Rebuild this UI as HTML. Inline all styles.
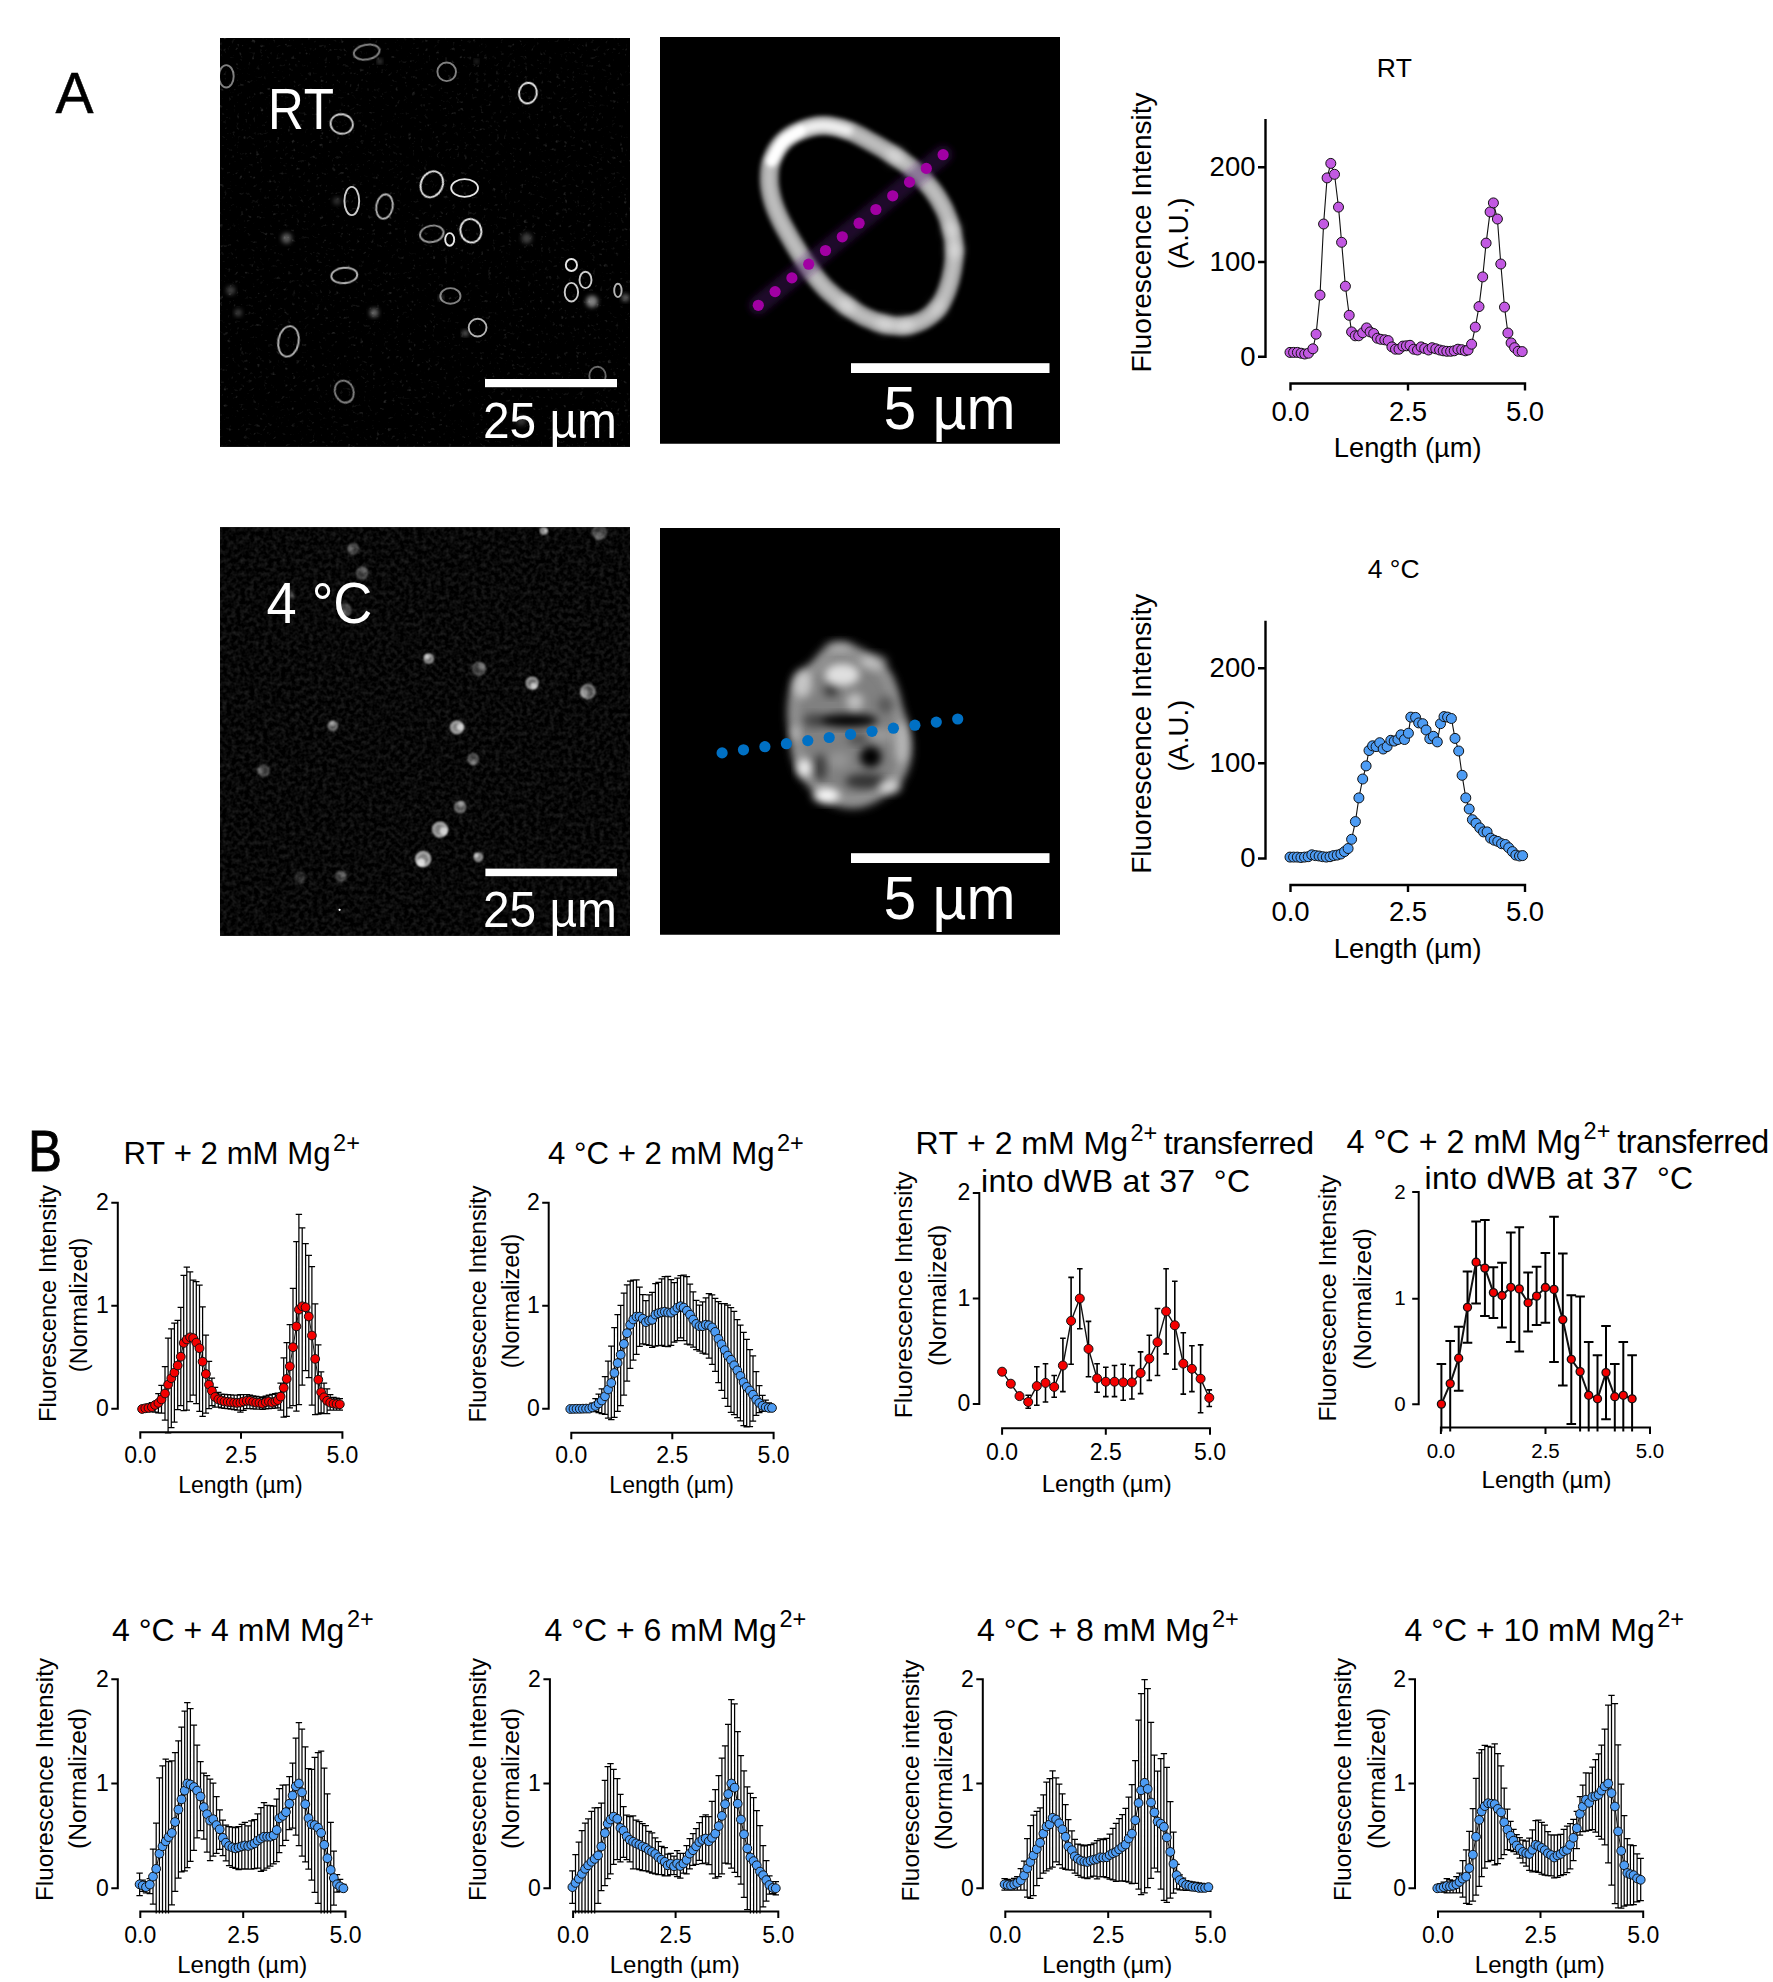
<!DOCTYPE html>
<html lang="en"><head><meta charset="utf-8"><title>Figure</title>
<style>html,body{margin:0;padding:0;background:#fff}svg{display:block}text{font-family:'Liberation Sans', sans-serif;font-kerning:none}</style></head><body>
<svg width="1773" height="1982" viewBox="0 0 1773 1982">
<defs>
<filter id="b05" x="-20%" y="-20%" width="140%" height="140%"><feGaussianBlur stdDeviation="0.6"/></filter>
<filter id="b1" x="-30%" y="-30%" width="160%" height="160%"><feGaussianBlur stdDeviation="1.2"/></filter>
<filter id="b2" x="-30%" y="-30%" width="160%" height="160%"><feGaussianBlur stdDeviation="2.2"/></filter>
<filter id="b3" x="-30%" y="-30%" width="160%" height="160%"><feGaussianBlur stdDeviation="3.2"/></filter>
<filter id="b4" x="-40%" y="-40%" width="180%" height="180%"><feGaussianBlur stdDeviation="4.2"/></filter>
<filter id="b5" x="-30%" y="-30%" width="160%" height="160%"><feGaussianBlur stdDeviation="5"/></filter>
<filter id="b8" x="-50%" y="-50%" width="200%" height="200%"><feGaussianBlur stdDeviation="7"/></filter>
<filter id="noise" x="0" y="0" width="100%" height="100%" color-interpolation-filters="sRGB"><feTurbulence type="fractalNoise" baseFrequency="0.22" numOctaves="2" seed="5" result="t"/><feColorMatrix in="t" type="matrix" values="0.24 0 0 0 -0.088  0.24 0 0 0 -0.088  0.24 0 0 0 -0.088  0 0 0 0 1"/></filter>
<filter id="noise1" x="0" y="0" width="100%" height="100%" color-interpolation-filters="sRGB"><feTurbulence type="fractalNoise" baseFrequency="0.25" numOctaves="2" seed="11" result="t"/><feColorMatrix in="t" type="matrix" values="0.6 0 0 0 -0.39  0.6 0 0 0 -0.39  0.6 0 0 0 -0.39  0 0 0 0 1"/></filter>
<clipPath id="cp1"><rect x="220" y="38" width="410" height="408.85"/></clipPath>
<clipPath id="cp2"><rect x="660" y="37.05" width="400" height="406.75"/></clipPath>
<clipPath id="cp3"><rect x="220" y="527.2" width="410" height="408.55"/></clipPath>
<clipPath id="cp4"><rect x="660" y="528.1" width="400" height="406.7"/></clipPath>
</defs>
<rect width="1773" height="1982" fill="#fff"/>
<text x="55.5" y="112.8" font-size="58" textLength="38" lengthAdjust="spacingAndGlyphs" stroke="#000" stroke-width="0.5">A</text>
<text x="28" y="1170.9" font-size="57" textLength="34" lengthAdjust="spacingAndGlyphs" stroke="#000" stroke-width="0.9">B</text>
<g clip-path="url(#cp1)">
<rect x="220" y="38" width="410" height="409" fill="#000"/>
<rect x="220" y="38" width="410" height="409" filter="url(#noise1)"/>
<ellipse cx="366.7" cy="52.1" rx="13" ry="7.4" transform="rotate(-10 366.7 52.1)" fill="none" stroke="#fff" stroke-opacity="0.5" stroke-width="1.9" filter="url(#b05)"/>
<ellipse cx="446.7" cy="71.8" rx="9.3" ry="9.3" transform="rotate(0 446.7 71.8)" fill="none" stroke="#fff" stroke-opacity="0.5" stroke-width="1.9" filter="url(#b05)"/>
<ellipse cx="527.9" cy="93.1" rx="8.9" ry="10.4" transform="rotate(10 527.9 93.1)" fill="none" stroke="#fff" stroke-opacity="0.9" stroke-width="1.9" filter="url(#b05)"/>
<ellipse cx="226.3" cy="76.3" rx="7.4" ry="11.2" transform="rotate(0 226.3 76.3)" fill="none" stroke="#fff" stroke-opacity="0.5" stroke-width="1.9" filter="url(#b05)"/>
<ellipse cx="341.7" cy="124" rx="11.2" ry="9.7" transform="rotate(10 341.7 124)" fill="none" stroke="#fff" stroke-opacity="0.8" stroke-width="1.9" filter="url(#b05)"/>
<ellipse cx="431.8" cy="184.3" rx="10.8" ry="13.4" transform="rotate(25 431.8 184.3)" fill="none" stroke="#fff" stroke-opacity="0.9" stroke-width="1.9" filter="url(#b05)"/>
<ellipse cx="464.6" cy="188" rx="13.4" ry="8.9" transform="rotate(0 464.6 188)" fill="none" stroke="#fff" stroke-opacity="0.9" stroke-width="1.9" filter="url(#b05)"/>
<ellipse cx="351.8" cy="201" rx="7.4" ry="14.1" transform="rotate(0 351.8 201)" fill="none" stroke="#fff" stroke-opacity="0.8" stroke-width="1.9" filter="url(#b05)"/>
<ellipse cx="384.5" cy="206.6" rx="8.2" ry="12.3" transform="rotate(10 384.5 206.6)" fill="none" stroke="#fff" stroke-opacity="0.7" stroke-width="1.9" filter="url(#b05)"/>
<ellipse cx="431.8" cy="233.8" rx="11.9" ry="8.2" transform="rotate(-10 431.8 233.8)" fill="none" stroke="#fff" stroke-opacity="0.6" stroke-width="1.9" filter="url(#b05)"/>
<ellipse cx="470.9" cy="230.8" rx="10.4" ry="11.9" transform="rotate(-15 470.9 230.8)" fill="none" stroke="#fff" stroke-opacity="0.9" stroke-width="1.9" filter="url(#b05)"/>
<ellipse cx="449.7" cy="239.4" rx="4.5" ry="6.3" transform="rotate(0 449.7 239.4)" fill="none" stroke="#fff" stroke-opacity="0.9" stroke-width="1.9" filter="url(#b05)"/>
<ellipse cx="344.3" cy="275.5" rx="13" ry="7.8" transform="rotate(-5 344.3 275.5)" fill="none" stroke="#fff" stroke-opacity="0.7" stroke-width="1.9" filter="url(#b05)"/>
<ellipse cx="450.4" cy="295.9" rx="10.1" ry="7.8" transform="rotate(0 450.4 295.9)" fill="none" stroke="#fff" stroke-opacity="0.5" stroke-width="1.9" filter="url(#b05)"/>
<ellipse cx="477.6" cy="327.6" rx="8.9" ry="8.9" transform="rotate(0 477.6 327.6)" fill="none" stroke="#fff" stroke-opacity="0.7" stroke-width="1.9" filter="url(#b05)"/>
<ellipse cx="288.5" cy="341.4" rx="10.1" ry="15.3" transform="rotate(10 288.5 341.4)" fill="none" stroke="#fff" stroke-opacity="0.7" stroke-width="1.9" filter="url(#b05)"/>
<ellipse cx="344.3" cy="391.6" rx="9.3" ry="11.2" transform="rotate(-20 344.3 391.6)" fill="none" stroke="#fff" stroke-opacity="0.5" stroke-width="1.9" filter="url(#b05)"/>
<ellipse cx="571.4" cy="265" rx="5.6" ry="6" transform="rotate(0 571.4 265)" fill="none" stroke="#fff" stroke-opacity="0.9" stroke-width="1.9" filter="url(#b05)"/>
<ellipse cx="585.5" cy="279.9" rx="6" ry="8.2" transform="rotate(0 585.5 279.9)" fill="none" stroke="#fff" stroke-opacity="0.8" stroke-width="1.9" filter="url(#b05)"/>
<ellipse cx="571.4" cy="292.2" rx="6.7" ry="9.3" transform="rotate(0 571.4 292.2)" fill="none" stroke="#fff" stroke-opacity="0.8" stroke-width="1.9" filter="url(#b05)"/>
<ellipse cx="617.9" cy="290.4" rx="3.7" ry="6.7" transform="rotate(0 617.9 290.4)" fill="none" stroke="#fff" stroke-opacity="0.7" stroke-width="1.9" filter="url(#b05)"/>
<ellipse cx="597.5" cy="376" rx="8.2" ry="9.3" transform="rotate(0 597.5 376)" fill="none" stroke="#fff" stroke-opacity="0.4" stroke-width="1.9" filter="url(#b05)"/>
<circle cx="286.6" cy="238.2" r="5.2" fill="#fff" fill-opacity="0.35" filter="url(#b2)"/>
<circle cx="374.1" cy="312.7" r="4.5" fill="#fff" fill-opacity="0.4" filter="url(#b2)"/>
<circle cx="591.9" cy="301.5" r="6" fill="#fff" fill-opacity="0.5" filter="url(#b2)"/>
<circle cx="526.7" cy="238.2" r="5.2" fill="#fff" fill-opacity="0.25" filter="url(#b2)"/>
<circle cx="230.8" cy="290.4" r="4.5" fill="#fff" fill-opacity="0.25" filter="url(#b2)"/>
<circle cx="238.2" cy="312.7" r="3.7" fill="#fff" fill-opacity="0.25" filter="url(#b2)"/>
<circle cx="336.9" cy="201" r="3.7" fill="#fff" fill-opacity="0.2" filter="url(#b2)"/>
<circle cx="625.4" cy="297.8" r="3.7" fill="#fff" fill-opacity="0.4" filter="url(#b2)"/>
<circle cx="379.7" cy="61.4" r="2.2" fill="#fff" fill-opacity="0.4" filter="url(#b2)"/>
<circle cx="476.5" cy="61.4" r="1.9" fill="#fff" fill-opacity="0.3" filter="url(#b2)"/>
<circle cx="521.2" cy="420.6" r="5.2" fill="#fff" fill-opacity="0.2" filter="url(#b2)"/>
<circle cx="465.3" cy="333.2" r="3" fill="#fff" fill-opacity="0.4" filter="url(#b2)"/>
<circle cx="441.1" cy="297.8" r="2.2" fill="#fff" fill-opacity="0.4" filter="url(#b2)"/>
</g>
<text x="268" y="129.4" font-size="58" textLength="66" lengthAdjust="spacingAndGlyphs" fill="#fff">RT</text>
<rect x="485" y="379" width="132" height="8.2" fill="#fff"/>
<text x="483" y="437.8" font-size="50" textLength="134" lengthAdjust="spacingAndGlyphs" fill="#fff">25 µm</text>
<g clip-path="url(#cp2)">
<rect x="660" y="37" width="400" height="407" fill="#000"/>
<path d="M782.9 141.9C787.8 136.8 794 133.2 800.8 130.5C807.6 127.7 815.8 125.5 823.6 125.5C831.5 125.5 839.8 127.6 847.9 130.5C856.1 133.3 864.4 138.3 872.3 142.6C880.1 146.9 888 151.4 895.1 156.2C902.3 161 909 165.6 915.1 171.2C921.3 176.8 927.4 183.4 932.3 189.8C937.2 196.2 941.2 203.2 944.5 209.8C947.7 216.5 949.9 223.2 951.6 229.8C953.3 236.5 954.3 243.2 954.5 249.9C954.6 256.5 953.8 263.2 952.6 269.9C951.4 276.6 949.7 283.6 947.3 289.9C944.9 296.2 942 302.8 938 307.8C934.1 312.8 929.2 316.9 923.7 319.9C918.2 322.9 911.6 324.9 905.1 325.6C898.7 326.4 891.8 325.6 885.1 324.2C878.5 322.8 871.5 320.2 865.1 317.1C858.7 314 852.5 309.8 846.5 305.6C840.6 301.5 834.6 296.9 829.4 292C824.1 287.2 819.4 281.7 815.1 276.3C810.8 271 807.4 265.7 803.6 259.9C799.8 254 796 247.7 792.2 241.3C788.4 234.8 784.3 227.9 781 221.3C777.8 214.6 774.8 207.9 772.9 201.3C770.9 194.6 769.5 187.9 769.3 181.2C769.1 174.6 769.2 167.8 771.5 161.2C773.7 154.7 778 147 782.9 141.9Z" fill="none" stroke="#969696" stroke-width="19" filter="url(#b2)"/>
<path d="M782.9 141.9C787.8 136.8 794 133.2 800.8 130.5C807.6 127.7 815.8 125.5 823.6 125.5C831.5 125.5 839.8 127.6 847.9 130.5C856.1 133.3 864.4 138.3 872.3 142.6C880.1 146.9 888 151.4 895.1 156.2C902.3 161 909 165.6 915.1 171.2C921.3 176.8 927.4 183.4 932.3 189.8C937.2 196.2 941.2 203.2 944.5 209.8C947.7 216.5 949.9 223.2 951.6 229.8C953.3 236.5 954.3 243.2 954.5 249.9C954.6 256.5 953.8 263.2 952.6 269.9C951.4 276.6 949.7 283.6 947.3 289.9C944.9 296.2 942 302.8 938 307.8C934.1 312.8 929.2 316.9 923.7 319.9C918.2 322.9 911.6 324.9 905.1 325.6C898.7 326.4 891.8 325.6 885.1 324.2C878.5 322.8 871.5 320.2 865.1 317.1C858.7 314 852.5 309.8 846.5 305.6C840.6 301.5 834.6 296.9 829.4 292C824.1 287.2 819.4 281.7 815.1 276.3C810.8 271 807.4 265.7 803.6 259.9C799.8 254 796 247.7 792.2 241.3C788.4 234.8 784.3 227.9 781 221.3C777.8 214.6 774.8 207.9 772.9 201.3C770.9 194.6 769.5 187.9 769.3 181.2C769.1 174.6 769.2 167.8 771.5 161.2C773.7 154.7 778 147 782.9 141.9Z" fill="none" stroke="#c8c8c8" stroke-opacity="0.75" stroke-width="10" filter="url(#b2)"/>
<path d="M771.5 161.2C773.4 158 778 147 782.9 141.9C787.8 136.8 794 133.2 800.8 130.5C807.6 127.7 815.8 125.5 823.6 125.5C831.5 125.5 843.9 129.6 847.9 130.5" fill="none" stroke="#fff" stroke-opacity="0.8" stroke-width="10" stroke-linecap="round" filter="url(#b3)"/>
<path d="M771.5 161.2C773.4 158 778 147 782.9 141.9C787.8 136.8 797.8 132.4 800.8 130.5" fill="none" stroke="#fff" stroke-width="9" stroke-linecap="round" filter="url(#b2)"/>
<circle cx="895.1" cy="156.2" r="9" fill="#fff" fill-opacity="0.35" filter="url(#b4)"/>
<circle cx="951.6" cy="229.8" r="9" fill="#fff" fill-opacity="0.315" filter="url(#b4)"/>
<circle cx="954.5" cy="249.9" r="9" fill="#fff" fill-opacity="0.35" filter="url(#b4)"/>
<circle cx="905.1" cy="325.6" r="9" fill="#fff" fill-opacity="0.35" filter="url(#b4)"/>
<circle cx="885.1" cy="324.2" r="9" fill="#fff" fill-opacity="0.35" filter="url(#b4)"/>
<circle cx="846.5" cy="305.6" r="9" fill="#fff" fill-opacity="0.35" filter="url(#b4)"/>
<circle cx="938" cy="307.8" r="9" fill="#fff" fill-opacity="0.21" filter="url(#b4)"/>
<line x1="758.3" y1="305.3" x2="943.1" y2="154.7" stroke="#4a1a66" stroke-opacity="0.42" stroke-width="19" stroke-linecap="round" filter="url(#b3)"/>
<g fill="#a100a3"><circle cx="758.3" cy="305.3" r="5.6"/><circle cx="775.1" cy="291.6" r="5.6"/><circle cx="791.9" cy="277.9" r="5.6"/><circle cx="808.7" cy="264.2" r="5.6"/><circle cx="825.5" cy="250.5" r="5.6"/><circle cx="842.3" cy="236.8" r="5.6"/><circle cx="859.1" cy="223.2" r="5.6"/><circle cx="875.9" cy="209.5" r="5.6"/><circle cx="892.7" cy="195.8" r="5.6"/><circle cx="909.5" cy="182.1" r="5.6"/><circle cx="926.3" cy="168.4" r="5.6"/><circle cx="943.1" cy="154.7" r="5.6"/></g>
</g>
<rect x="851" y="363.2" width="198.5" height="9.8" fill="#fff"/>
<text x="883.5" y="428.5" font-size="61" textLength="132" lengthAdjust="spacingAndGlyphs" fill="#fff">5 µm</text>
<g clip-path="url(#cp3)">
<rect x="220" y="527" width="410" height="409" fill="#000"/>
<rect x="220" y="527" width="410" height="409" filter="url(#noise)"/>
<circle cx="543.8" cy="530.8" r="3.3" fill="#fff" fill-opacity="0.4" filter="url(#b1)"/>
<circle cx="545.5" cy="530.8" r="1.8" fill="#fff" fill-opacity="0.6" filter="url(#b1)"/>
<circle cx="543.8" cy="530.8" r="3" fill="none" stroke="#fff" stroke-opacity="0.5" stroke-width="1.8" filter="url(#b1)"/>
<circle cx="599.5" cy="532.1" r="7.3" fill="#fff" fill-opacity="0.2" filter="url(#b1)"/>
<circle cx="599.1" cy="535.9" r="3.9" fill="#fff" fill-opacity="0.2" filter="url(#b1)"/>
<circle cx="599.5" cy="532.1" r="6.7" fill="none" stroke="#fff" stroke-opacity="0.2" stroke-width="1.8" filter="url(#b1)"/>
<circle cx="353.1" cy="548.9" r="5.3" fill="#fff" fill-opacity="0.2" filter="url(#b1)"/>
<circle cx="350.4" cy="548.2" r="2.8" fill="#fff" fill-opacity="0.2" filter="url(#b1)"/>
<circle cx="353.1" cy="548.9" r="4.9" fill="none" stroke="#fff" stroke-opacity="0.2" stroke-width="1.8" filter="url(#b1)"/>
<circle cx="362.2" cy="573" r="5.7" fill="#fff" fill-opacity="0.2" filter="url(#b1)"/>
<circle cx="363.3" cy="570.2" r="3" fill="#fff" fill-opacity="0.2" filter="url(#b1)"/>
<circle cx="362.2" cy="573" r="5.3" fill="none" stroke="#fff" stroke-opacity="0.2" stroke-width="1.8" filter="url(#b1)"/>
<circle cx="289.5" cy="594.3" r="4.4" fill="#fff" fill-opacity="0.1" filter="url(#b1)"/>
<circle cx="291.5" cy="595.5" r="2.3" fill="#fff" fill-opacity="0.2" filter="url(#b1)"/>
<circle cx="289.5" cy="594.3" r="4" fill="none" stroke="#fff" stroke-opacity="0.1" stroke-width="1.8" filter="url(#b1)"/>
<circle cx="345.3" cy="609.9" r="6" fill="#fff" fill-opacity="0.2" filter="url(#b1)"/>
<circle cx="343.4" cy="612.4" r="3.2" fill="#fff" fill-opacity="0.2" filter="url(#b1)"/>
<circle cx="345.3" cy="609.9" r="5.5" fill="none" stroke="#fff" stroke-opacity="0.2" stroke-width="1.8" filter="url(#b1)"/>
<circle cx="428.8" cy="658.7" r="4.6" fill="#fff" fill-opacity="0.4" filter="url(#b1)"/>
<circle cx="427.1" cy="656.9" r="2.5" fill="#fff" fill-opacity="0.6" filter="url(#b1)"/>
<circle cx="428.8" cy="658.7" r="4.2" fill="none" stroke="#fff" stroke-opacity="0.5" stroke-width="1.8" filter="url(#b1)"/>
<circle cx="478.9" cy="668.8" r="6.6" fill="#fff" fill-opacity="0.2" filter="url(#b1)"/>
<circle cx="481.7" cy="666.6" r="3.5" fill="#fff" fill-opacity="0.3" filter="url(#b1)"/>
<circle cx="478.9" cy="668.8" r="6.1" fill="none" stroke="#fff" stroke-opacity="0.2" stroke-width="1.8" filter="url(#b1)"/>
<circle cx="532.1" cy="683.1" r="6" fill="#fff" fill-opacity="0.4" filter="url(#b1)"/>
<circle cx="533.7" cy="685.8" r="3.2" fill="#fff" fill-opacity="0.6" filter="url(#b1)"/>
<circle cx="532.1" cy="683.1" r="5.5" fill="none" stroke="#fff" stroke-opacity="0.5" stroke-width="1.8" filter="url(#b1)"/>
<circle cx="587.9" cy="691.6" r="7.3" fill="#fff" fill-opacity="0.3" filter="url(#b1)"/>
<circle cx="584.3" cy="693.1" r="3.9" fill="#fff" fill-opacity="0.4" filter="url(#b1)"/>
<circle cx="587.9" cy="691.6" r="6.7" fill="none" stroke="#fff" stroke-opacity="0.4" stroke-width="1.8" filter="url(#b1)"/>
<circle cx="332.8" cy="725.9" r="4.6" fill="#fff" fill-opacity="0.3" filter="url(#b1)"/>
<circle cx="332.2" cy="723.5" r="2.5" fill="#fff" fill-opacity="0.4" filter="url(#b1)"/>
<circle cx="332.8" cy="725.9" r="4.2" fill="none" stroke="#fff" stroke-opacity="0.4" stroke-width="1.8" filter="url(#b1)"/>
<circle cx="456.9" cy="727.4" r="6.4" fill="#fff" fill-opacity="0.5" filter="url(#b1)"/>
<circle cx="460.2" cy="726.9" r="3.4" fill="#fff" fill-opacity="0.6" filter="url(#b1)"/>
<circle cx="456.9" cy="727.4" r="5.9" fill="none" stroke="#fff" stroke-opacity="0.5" stroke-width="1.8" filter="url(#b1)"/>
<circle cx="473.2" cy="759.1" r="5.3" fill="#fff" fill-opacity="0.2" filter="url(#b1)"/>
<circle cx="473.3" cy="761.9" r="2.8" fill="#fff" fill-opacity="0.3" filter="url(#b1)"/>
<circle cx="473.2" cy="759.1" r="4.9" fill="none" stroke="#fff" stroke-opacity="0.3" stroke-width="1.8" filter="url(#b1)"/>
<circle cx="263.6" cy="770.7" r="5.7" fill="#fff" fill-opacity="0.2" filter="url(#b1)"/>
<circle cx="260.5" cy="770.4" r="3" fill="#fff" fill-opacity="0.2" filter="url(#b1)"/>
<circle cx="263.6" cy="770.7" r="5.3" fill="none" stroke="#fff" stroke-opacity="0.2" stroke-width="1.8" filter="url(#b1)"/>
<circle cx="460.2" cy="807.1" r="5.7" fill="#fff" fill-opacity="0.3" filter="url(#b1)"/>
<circle cx="460.9" cy="804.1" r="3" fill="#fff" fill-opacity="0.4" filter="url(#b1)"/>
<circle cx="460.2" cy="807.1" r="5.3" fill="none" stroke="#fff" stroke-opacity="0.3" stroke-width="1.8" filter="url(#b1)"/>
<circle cx="440" cy="829.6" r="7.5" fill="#fff" fill-opacity="0.5" filter="url(#b1)"/>
<circle cx="443.7" cy="831.1" r="4" fill="#fff" fill-opacity="0.6" filter="url(#b1)"/>
<circle cx="440" cy="829.6" r="6.9" fill="none" stroke="#fff" stroke-opacity="0.5" stroke-width="1.8" filter="url(#b1)"/>
<circle cx="423.1" cy="859" r="7.5" fill="#fff" fill-opacity="0.5" filter="url(#b1)"/>
<circle cx="421.2" cy="862.4" r="4" fill="#fff" fill-opacity="0.7" filter="url(#b1)"/>
<circle cx="423.1" cy="859" r="6.9" fill="none" stroke="#fff" stroke-opacity="0.6" stroke-width="1.8" filter="url(#b1)"/>
<circle cx="478.4" cy="857.1" r="4.2" fill="#fff" fill-opacity="0.4" filter="url(#b1)"/>
<circle cx="476.6" cy="855.8" r="2.2" fill="#fff" fill-opacity="0.6" filter="url(#b1)"/>
<circle cx="478.4" cy="857.1" r="3.8" fill="none" stroke="#fff" stroke-opacity="0.5" stroke-width="1.8" filter="url(#b1)"/>
<circle cx="340.9" cy="876.3" r="5.1" fill="#fff" fill-opacity="0.2" filter="url(#b1)"/>
<circle cx="342.7" cy="874.4" r="2.7" fill="#fff" fill-opacity="0.2" filter="url(#b1)"/>
<circle cx="340.9" cy="876.3" r="4.7" fill="none" stroke="#fff" stroke-opacity="0.2" stroke-width="1.8" filter="url(#b1)"/>
<circle cx="299.9" cy="877.1" r="5.3" fill="#fff" fill-opacity="0.1" filter="url(#b1)"/>
<circle cx="301.7" cy="879.3" r="2.8" fill="#fff" fill-opacity="0.1" filter="url(#b1)"/>
<circle cx="299.9" cy="877.1" r="4.9" fill="none" stroke="#fff" stroke-opacity="0.1" stroke-width="1.8" filter="url(#b1)"/>
<circle cx="339.6" cy="909.8" r="1.1" fill="#fff"/>
</g>
<text x="266.5" y="622.9" font-size="58" textLength="106" lengthAdjust="spacingAndGlyphs" fill="#fff">4 °C</text>
<rect x="485.4" y="868.6" width="131.6" height="7.6" fill="#fff"/>
<text x="483" y="926.8" font-size="50" textLength="134" lengthAdjust="spacingAndGlyphs" fill="#fff">25 µm</text>
<g clip-path="url(#cp4)">
<rect x="660" y="528" width="400" height="407" fill="#000"/>
<g transform="translate(848 725) scale(0.97) translate(-848 -725)">
<path d="M839 640C844.8 639.7 851.6 642.1 857.9 644.7C864.2 647.4 871.3 651.6 876.9 655.8C882.4 660 887.4 664.5 891.1 670C894.8 675.5 896.9 682.6 899 689C901.1 695.3 901.9 701.6 903.7 707.9C905.6 714.2 908.5 720 910 726.9C911.6 733.7 913.2 741.9 913.2 749C913.2 756.1 912.1 763.2 910 769.5C907.9 775.8 904.8 781.9 900.6 786.9C896.4 791.9 890.6 795.8 884.8 799.5C879 803.2 872.1 807.1 865.8 809C859.5 810.8 853.4 811.4 846.9 810.6C840.3 809.8 832.4 807.4 826.3 804.2C820.3 801.1 815.3 796.4 810.5 791.6C805.8 786.9 801.1 781.3 797.9 775.8C794.8 770.3 793.2 765 791.6 758.4C790 751.9 789.4 744 788.4 736.3C787.5 728.7 786.1 720.5 786.1 712.7C786.1 704.8 787 695.5 788.4 689C789.9 682.4 791.1 677.9 794.8 673.2C798.4 668.4 805.8 665 810.5 660.5C815.3 656.1 818.4 649.7 823.2 646.3C827.9 642.9 833.2 640.3 839 640Z" fill="#808080" filter="url(#b5)"/>
<path d="M839 640C844.8 639.7 851.6 642.1 857.9 644.7C864.2 647.4 871.3 651.6 876.9 655.8C882.4 660 887.4 664.5 891.1 670C894.8 675.5 896.9 682.6 899 689C901.1 695.3 901.9 701.6 903.7 707.9C905.6 714.2 908.5 720 910 726.9C911.6 733.7 913.2 741.9 913.2 749C913.2 756.1 912.1 763.2 910 769.5C907.9 775.8 904.8 781.9 900.6 786.9C896.4 791.9 890.6 795.8 884.8 799.5C879 803.2 872.1 807.1 865.8 809C859.5 810.8 853.4 811.4 846.9 810.6C840.3 809.8 832.4 807.4 826.3 804.2C820.3 801.1 815.3 796.4 810.5 791.6C805.8 786.9 801.1 781.3 797.9 775.8C794.8 770.3 793.2 765 791.6 758.4C790 751.9 789.4 744 788.4 736.3C787.5 728.7 786.1 720.5 786.1 712.7C786.1 704.8 787 695.5 788.4 689C789.9 682.4 791.1 677.9 794.8 673.2C798.4 668.4 805.8 665 810.5 660.5C815.3 656.1 818.4 649.7 823.2 646.3C827.9 642.9 833.2 640.3 839 640Z" fill="none" stroke="#a0a0a0" stroke-opacity="0.8" stroke-width="8" filter="url(#b5)" transform="translate(848 725) scale(0.9) translate(-848 -725)"/>
</g>
<ellipse cx="848.4" cy="720.5" rx="29.5" ry="6.6" fill="#000" fill-opacity="1" filter="url(#b4)"/>
<ellipse cx="870.6" cy="756.9" rx="10.8" ry="10.8" fill="#000" fill-opacity="1" filter="url(#b4)"/>
<ellipse cx="831.1" cy="690.5" rx="7.3" ry="6.3" fill="#000" fill-opacity="0.55" filter="url(#b4)"/>
<ellipse cx="865.8" cy="781.3" rx="20.8" ry="7.8" fill="#000" fill-opacity="0.6" filter="url(#b4)"/>
<ellipse cx="820" cy="767.9" rx="6.9" ry="13.9" fill="#000" fill-opacity="0.5" filter="url(#b4)"/>
<ellipse cx="813.7" cy="720.5" rx="10.4" ry="6.9" fill="#000" fill-opacity="0.45" filter="url(#b4)"/>
<ellipse cx="886.4" cy="704.8" rx="8.7" ry="8.7" fill="#000" fill-opacity="0.3" filter="url(#b4)"/>
<ellipse cx="857.9" cy="739.5" rx="10.4" ry="5.2" fill="#000" fill-opacity="0.4" filter="url(#b4)"/>
<ellipse cx="842.1" cy="674.7" rx="17.4" ry="11.3" fill="#fff" fill-opacity="0.75" filter="url(#b4)"/>
<ellipse cx="802.7" cy="684.2" rx="9.6" ry="13.9" fill="#fff" fill-opacity="0.5" filter="url(#b4)"/>
<ellipse cx="854.8" cy="701.6" rx="8.7" ry="8.7" fill="#fff" fill-opacity="0.5" filter="url(#b4)"/>
<ellipse cx="873.7" cy="662.1" rx="13.9" ry="7.8" fill="#fff" fill-opacity="0.4" filter="url(#b4)"/>
<ellipse cx="804.2" cy="767.9" rx="7.3" ry="9" fill="#fff" fill-opacity="0.85" filter="url(#b4)"/>
<ellipse cx="826.3" cy="795.6" rx="13" ry="7.3" fill="#fff" fill-opacity="0.95" filter="url(#b4)"/>
<ellipse cx="889.5" cy="786.9" rx="11.3" ry="6.9" fill="#fff" fill-opacity="0.65" filter="url(#b4)"/>
<ellipse cx="901.4" cy="742.7" rx="7.8" ry="20.8" fill="#fff" fill-opacity="0.35" filter="url(#b4)"/>
<ellipse cx="881.6" cy="734.8" rx="12.2" ry="6.9" fill="#fff" fill-opacity="0.2" filter="url(#b4)"/>
<ellipse cx="839" cy="760" rx="10.4" ry="8.7" fill="#fff" fill-opacity="0.15" filter="url(#b4)"/>
<ellipse cx="794.8" cy="733.2" rx="5.2" ry="6.9" fill="#fff" fill-opacity="0.35" filter="url(#b4)"/>
<ellipse cx="839" cy="646.3" rx="13.9" ry="5.2" fill="#fff" fill-opacity="0.3" filter="url(#b4)"/>
<g fill="#0070c4"><circle cx="722.1" cy="752.9" r="5.6"/><circle cx="743.5" cy="749.8" r="5.6"/><circle cx="764.9" cy="746.7" r="5.6"/><circle cx="786.4" cy="743.7" r="5.6"/><circle cx="807.8" cy="740.6" r="5.6"/><circle cx="829.2" cy="737.5" r="5.6"/><circle cx="850.6" cy="734.4" r="5.6"/><circle cx="872" cy="731.3" r="5.6"/><circle cx="893.4" cy="728.2" r="5.6"/><circle cx="914.9" cy="725.2" r="5.6"/><circle cx="936.3" cy="722.1" r="5.6"/><circle cx="957.7" cy="719" r="5.6"/></g>
</g>
<rect x="851" y="853.2" width="198.5" height="9.8" fill="#fff"/>
<text x="883.5" y="918.5" font-size="61" textLength="132" lengthAdjust="spacingAndGlyphs" fill="#fff">5 µm</text>
<polyline points="1290,352.4 1293.6,352.4 1297.4,352.4 1301.1,353.2 1304.7,354 1308.5,353.2 1312.9,348.8 1316.1,334.2 1320,295.1 1323.6,224 1327.1,177.9 1330.8,163.4 1334.5,174.3 1338.5,207.1 1341.6,242.3 1345.4,286.2 1349.2,315.3 1351.6,331.9 1355.2,335.8 1358.7,335.8 1362.7,332.7 1366.6,327.9 1370.1,331.9 1373.7,333.5 1377.3,338.2 1380.8,339.3 1384.8,339.8 1388.2,340.6 1391.9,346.9 1395.5,349.2 1399,349.2 1402.9,346.1 1406.4,345.8 1410,345.3 1413.7,349.2 1417.5,350 1421.1,346.9 1424.7,348.5 1428.5,350 1432.1,347.7 1435.8,348.8 1439.6,350 1443.2,350.8 1446.8,351.3 1450.6,351.3 1454.2,350.8 1457.9,349.2 1461.7,349.7 1465.3,350.8 1468.1,350 1471.6,344.2 1475.3,327.1 1479,306.6 1482.7,276.9 1486.1,243.1 1490.1,211.9 1493.4,202.9 1497.4,219 1500.8,264 1504.5,307.1 1507.9,333 1511.1,342.9 1514.6,347.7 1518.2,351.3 1522.2,351.6" fill="none" stroke="#111" stroke-width="1.1"/>
<g fill="#c259e2" stroke="#111" stroke-width="1.0"><circle cx="1290" cy="352.4" r="5.0"/><circle cx="1293.6" cy="352.4" r="5.0"/><circle cx="1297.4" cy="352.4" r="5.0"/><circle cx="1301.1" cy="353.2" r="5.0"/><circle cx="1304.7" cy="354" r="5.0"/><circle cx="1308.5" cy="353.2" r="5.0"/><circle cx="1312.9" cy="348.8" r="5.0"/><circle cx="1316.1" cy="334.2" r="5.0"/><circle cx="1320" cy="295.1" r="5.0"/><circle cx="1323.6" cy="224" r="5.0"/><circle cx="1327.1" cy="177.9" r="5.0"/><circle cx="1330.8" cy="163.4" r="5.0"/><circle cx="1334.5" cy="174.3" r="5.0"/><circle cx="1338.5" cy="207.1" r="5.0"/><circle cx="1341.6" cy="242.3" r="5.0"/><circle cx="1345.4" cy="286.2" r="5.0"/><circle cx="1349.2" cy="315.3" r="5.0"/><circle cx="1351.6" cy="331.9" r="5.0"/><circle cx="1355.2" cy="335.8" r="5.0"/><circle cx="1358.7" cy="335.8" r="5.0"/><circle cx="1362.7" cy="332.7" r="5.0"/><circle cx="1366.6" cy="327.9" r="5.0"/><circle cx="1370.1" cy="331.9" r="5.0"/><circle cx="1373.7" cy="333.5" r="5.0"/><circle cx="1377.3" cy="338.2" r="5.0"/><circle cx="1380.8" cy="339.3" r="5.0"/><circle cx="1384.8" cy="339.8" r="5.0"/><circle cx="1388.2" cy="340.6" r="5.0"/><circle cx="1391.9" cy="346.9" r="5.0"/><circle cx="1395.5" cy="349.2" r="5.0"/><circle cx="1399" cy="349.2" r="5.0"/><circle cx="1402.9" cy="346.1" r="5.0"/><circle cx="1406.4" cy="345.8" r="5.0"/><circle cx="1410" cy="345.3" r="5.0"/><circle cx="1413.7" cy="349.2" r="5.0"/><circle cx="1417.5" cy="350" r="5.0"/><circle cx="1421.1" cy="346.9" r="5.0"/><circle cx="1424.7" cy="348.5" r="5.0"/><circle cx="1428.5" cy="350" r="5.0"/><circle cx="1432.1" cy="347.7" r="5.0"/><circle cx="1435.8" cy="348.8" r="5.0"/><circle cx="1439.6" cy="350" r="5.0"/><circle cx="1443.2" cy="350.8" r="5.0"/><circle cx="1446.8" cy="351.3" r="5.0"/><circle cx="1450.6" cy="351.3" r="5.0"/><circle cx="1454.2" cy="350.8" r="5.0"/><circle cx="1457.9" cy="349.2" r="5.0"/><circle cx="1461.7" cy="349.7" r="5.0"/><circle cx="1465.3" cy="350.8" r="5.0"/><circle cx="1468.1" cy="350" r="5.0"/><circle cx="1471.6" cy="344.2" r="5.0"/><circle cx="1475.3" cy="327.1" r="5.0"/><circle cx="1479" cy="306.6" r="5.0"/><circle cx="1482.7" cy="276.9" r="5.0"/><circle cx="1486.1" cy="243.1" r="5.0"/><circle cx="1490.1" cy="211.9" r="5.0"/><circle cx="1493.4" cy="202.9" r="5.0"/><circle cx="1497.4" cy="219" r="5.0"/><circle cx="1500.8" cy="264" r="5.0"/><circle cx="1504.5" cy="307.1" r="5.0"/><circle cx="1507.9" cy="333" r="5.0"/><circle cx="1511.1" cy="342.9" r="5.0"/><circle cx="1514.6" cy="347.7" r="5.0"/><circle cx="1518.2" cy="351.3" r="5.0"/><circle cx="1522.2" cy="351.6" r="5.0"/></g>
<path d="M1265.5 119V358M1258 167.3H1265.5M1258 262H1265.5M1258 356.8H1265.5M1289.3 383.5H1526.2M1290.5 383.5V390.5M1408 383.5V390.5M1525 383.5V390.5" stroke="#000" stroke-width="2.4" fill="none"/>
<text x="1255.5" y="176.1" font-size="27.5" text-anchor="end">200</text>
<text x="1255.5" y="270.8" font-size="27.5" text-anchor="end">100</text>
<text x="1255.5" y="365.6" font-size="27.5" text-anchor="end">0</text>
<text x="1290.5" y="420.8" font-size="27.5" text-anchor="middle">0.0</text>
<text x="1408" y="420.8" font-size="27.5" text-anchor="middle">2.5</text>
<text x="1525" y="420.8" font-size="27.5" text-anchor="middle">5.0</text>
<text x="1150.9" y="232.5" font-size="28" text-anchor="middle" transform="rotate(-90 1150.9 232.5)">Fluorescence Intensity</text>
<text x="1187.8" y="233.4" font-size="27.5" text-anchor="middle" transform="rotate(-90 1187.8 233.4)">(A.U.)</text>
<text x="1407.7" y="457.1" font-size="27.3" text-anchor="middle">Length (µm)</text>
<text x="1394.4" y="77.4" font-size="26.5" text-anchor="middle">RT</text>
<polyline points="1290,857.1 1293.6,857.1 1297.3,857.1 1300.9,857.5 1304.5,857.1 1308.2,856.7 1311.8,854.8 1315.4,855.6 1319.1,856 1322.7,856.7 1326.3,857.1 1330,856.7 1333.6,855.6 1337.2,855.1 1340.9,854 1344.5,851.6 1348.1,848.5 1351.6,839.3 1355.4,821.6 1358.9,797.9 1362.7,779 1366.1,765.9 1369,750.5 1372.6,745.8 1376.1,746.6 1379.7,742.7 1383.2,749 1387.1,746.6 1390.8,740.3 1394.2,741.1 1397.9,739.5 1401,734.8 1404.5,739.5 1408.4,733.2 1410.8,717.1 1415.6,717.4 1418.7,722.9 1422.7,723.7 1426.1,730 1429.8,738.7 1433.4,736.3 1437.3,741.9 1440.5,723.7 1444,716.6 1447.6,717.1 1451.4,718.5 1455,738.4 1458.7,751 1462.1,775.3 1465.8,797.9 1469.2,809 1472.4,819.7 1476,823.2 1479.8,827.9 1483.5,831.9 1487.1,831.9 1490.6,838.2 1494.2,840.2 1497.8,841.4 1501.6,843.7 1505.3,844.5 1508.7,847.7 1512.4,851.6 1515.8,855.1 1519.5,856 1522.6,855.6" fill="none" stroke="#111" stroke-width="1.1"/>
<g fill="#4d9cf4" stroke="#111" stroke-width="1.0"><circle cx="1290" cy="857.1" r="5.0"/><circle cx="1293.6" cy="857.1" r="5.0"/><circle cx="1297.3" cy="857.1" r="5.0"/><circle cx="1300.9" cy="857.5" r="5.0"/><circle cx="1304.5" cy="857.1" r="5.0"/><circle cx="1308.2" cy="856.7" r="5.0"/><circle cx="1311.8" cy="854.8" r="5.0"/><circle cx="1315.4" cy="855.6" r="5.0"/><circle cx="1319.1" cy="856" r="5.0"/><circle cx="1322.7" cy="856.7" r="5.0"/><circle cx="1326.3" cy="857.1" r="5.0"/><circle cx="1330" cy="856.7" r="5.0"/><circle cx="1333.6" cy="855.6" r="5.0"/><circle cx="1337.2" cy="855.1" r="5.0"/><circle cx="1340.9" cy="854" r="5.0"/><circle cx="1344.5" cy="851.6" r="5.0"/><circle cx="1348.1" cy="848.5" r="5.0"/><circle cx="1351.6" cy="839.3" r="5.0"/><circle cx="1355.4" cy="821.6" r="5.0"/><circle cx="1358.9" cy="797.9" r="5.0"/><circle cx="1362.7" cy="779" r="5.0"/><circle cx="1366.1" cy="765.9" r="5.0"/><circle cx="1369" cy="750.5" r="5.0"/><circle cx="1372.6" cy="745.8" r="5.0"/><circle cx="1376.1" cy="746.6" r="5.0"/><circle cx="1379.7" cy="742.7" r="5.0"/><circle cx="1383.2" cy="749" r="5.0"/><circle cx="1387.1" cy="746.6" r="5.0"/><circle cx="1390.8" cy="740.3" r="5.0"/><circle cx="1394.2" cy="741.1" r="5.0"/><circle cx="1397.9" cy="739.5" r="5.0"/><circle cx="1401" cy="734.8" r="5.0"/><circle cx="1404.5" cy="739.5" r="5.0"/><circle cx="1408.4" cy="733.2" r="5.0"/><circle cx="1410.8" cy="717.1" r="5.0"/><circle cx="1415.6" cy="717.4" r="5.0"/><circle cx="1418.7" cy="722.9" r="5.0"/><circle cx="1422.7" cy="723.7" r="5.0"/><circle cx="1426.1" cy="730" r="5.0"/><circle cx="1429.8" cy="738.7" r="5.0"/><circle cx="1433.4" cy="736.3" r="5.0"/><circle cx="1437.3" cy="741.9" r="5.0"/><circle cx="1440.5" cy="723.7" r="5.0"/><circle cx="1444" cy="716.6" r="5.0"/><circle cx="1447.6" cy="717.1" r="5.0"/><circle cx="1451.4" cy="718.5" r="5.0"/><circle cx="1455" cy="738.4" r="5.0"/><circle cx="1458.7" cy="751" r="5.0"/><circle cx="1462.1" cy="775.3" r="5.0"/><circle cx="1465.8" cy="797.9" r="5.0"/><circle cx="1469.2" cy="809" r="5.0"/><circle cx="1472.4" cy="819.7" r="5.0"/><circle cx="1476" cy="823.2" r="5.0"/><circle cx="1479.8" cy="827.9" r="5.0"/><circle cx="1483.5" cy="831.9" r="5.0"/><circle cx="1487.1" cy="831.9" r="5.0"/><circle cx="1490.6" cy="838.2" r="5.0"/><circle cx="1494.2" cy="840.2" r="5.0"/><circle cx="1497.8" cy="841.4" r="5.0"/><circle cx="1501.6" cy="843.7" r="5.0"/><circle cx="1505.3" cy="844.5" r="5.0"/><circle cx="1508.7" cy="847.7" r="5.0"/><circle cx="1512.4" cy="851.6" r="5.0"/><circle cx="1515.8" cy="855.1" r="5.0"/><circle cx="1519.5" cy="856" r="5.0"/><circle cx="1522.6" cy="855.6" r="5.0"/></g>
<path d="M1265.5 620.7V859.7M1258 668.3H1265.5M1258 763.3H1265.5M1258 858.5H1265.5M1289.3 885H1526.2M1290.5 885V892M1408 885V892M1525 885V892" stroke="#000" stroke-width="2.4" fill="none"/>
<text x="1255.5" y="677.1" font-size="27.5" text-anchor="end">200</text>
<text x="1255.5" y="772.1" font-size="27.5" text-anchor="end">100</text>
<text x="1255.5" y="867.3" font-size="27.5" text-anchor="end">0</text>
<text x="1290.5" y="921" font-size="27.5" text-anchor="middle">0.0</text>
<text x="1408" y="921" font-size="27.5" text-anchor="middle">2.5</text>
<text x="1525" y="921" font-size="27.5" text-anchor="middle">5.0</text>
<text x="1150.9" y="733.7" font-size="28" text-anchor="middle" transform="rotate(-90 1150.9 733.7)">Fluorescence Intensity</text>
<text x="1187.8" y="735.7" font-size="27.5" text-anchor="middle" transform="rotate(-90 1187.8 735.7)">(A.U.)</text>
<text x="1407.7" y="957.7" font-size="27.3" text-anchor="middle">Length (µm)</text>
<text x="1393.7" y="578.2" font-size="26.5" text-anchor="middle">4 °C</text>
<path d="M142.1 1406.4V1411.4M138.9 1406.4H145.3M138.9 1411.4H145.3M145.3 1405.3V1411.5M142.1 1405.3H148.5M142.1 1411.5H148.5M148.5 1404V1411.7M145.3 1404H151.7M145.3 1411.7H151.7M151.9 1402.7V1411.9M148.7 1402.7H155.1M148.7 1411.9H155.1M155.1 1401.5V1412.1M151.9 1401.5H158.3M151.9 1412.1H158.3M158.4 1393.5V1412.8M155.2 1393.5H161.6M155.2 1412.8H161.6M161.5 1385.3V1413.1M158.3 1385.3H164.7M158.3 1413.1H164.7M165 1366.5V1420.1M161.8 1366.5H168.2M161.8 1420.1H168.2M168.1 1338.1V1432.8M164.9 1338.1H171.3M164.9 1432.8H171.3M171.3 1328.9V1427.6M168.1 1328.9H174.5M168.1 1427.6H174.5M174.4 1323.2V1422.2M171.2 1323.2H177.6M171.2 1422.2H177.6M177.7 1320.4V1409.5M174.5 1320.4H180.9M174.5 1409.5H180.9M180.8 1307.3V1405.7M177.6 1307.3H184M177.6 1405.7H184M183.7 1275.3V1410.7M180.5 1275.3H186.9M180.5 1410.7H186.9M186.8 1267.1V1410M183.6 1267.1H190M183.6 1410H190M190.1 1271.8V1401.5M186.9 1271.8H193.3M186.9 1401.5H193.3M193.2 1280.2V1395.2M190 1280.2H196.4M190 1395.2H196.4M196.3 1281.7V1403.6M193.1 1281.7H199.5M193.1 1403.6H199.5M199.5 1285.2V1411.4M196.3 1285.2H202.7M196.3 1411.4H202.7M202.6 1306.8V1416.3M199.4 1306.8H205.8M199.4 1416.3H205.8M205.9 1335.2V1413.1M202.7 1335.2H209.1M202.7 1413.1H209.1M209 1361.3V1408.6M205.8 1361.3H212.2M205.8 1408.6H212.2M211.9 1378V1405.7M208.7 1378H215.1M208.7 1405.7H215.1M215 1387.4V1407.1M211.8 1387.4H218.2M211.8 1407.1H218.2M218.3 1392.3V1407.1M215.1 1392.3H221.5M215.1 1407.1H221.5M221.4 1394.2V1407.9M218.2 1394.2H224.6M218.2 1407.9H224.6M224.5 1394.4V1408.3M221.3 1394.4H227.7M221.3 1408.3H227.7M227.7 1394.6V1408.7M224.5 1394.6H230.9M224.5 1408.7H230.9M230.8 1394.8V1409.1M227.6 1394.8H234M227.6 1409.1H234M234.1 1395V1409.6M230.9 1395H237.3M230.9 1409.6H237.3M237.2 1395.2V1410M234 1395.2H240.4M234 1410H240.4M240.4 1394.5V1412.1M237.2 1394.5H243.6M237.2 1412.1H243.6M243.5 1394.6V1410.4M240.3 1394.6H246.7M240.3 1410.4H246.7M246.8 1394.7V1408.6M243.6 1394.7H250M243.6 1408.6H250M249.9 1395.2V1408.7M246.7 1395.2H253.1M246.7 1408.7H253.1M253.1 1395.8V1408.8M249.9 1395.8H256.3M249.9 1408.8H256.3M256.2 1396.3V1409M253 1396.3H259.4M253 1409H259.4M259.5 1396.8V1409.1M256.3 1396.8H262.7M256.3 1409.1H262.7M262.6 1397.3V1409.3M259.4 1397.3H265.8M259.4 1409.3H265.8M265.8 1396.2V1408.9M262.6 1396.2H269M262.6 1408.9H269M268.9 1395.2V1408.6M265.7 1395.2H272.1M265.7 1408.6H272.1M272.2 1394.4V1408.3M269 1394.4H275.4M269 1408.3H275.4M275.3 1393.6V1408.1M272.1 1393.6H278.5M272.1 1408.1H278.5M277.8 1393V1407.9M274.6 1393H281M274.6 1407.9H281M280.6 1383.2V1410M277.4 1383.2H283.8M277.4 1410H283.8M283.7 1357.8V1417M280.5 1357.8H286.9M280.5 1417H286.9M286.7 1342.6V1416.3M283.5 1342.6H289.9M283.5 1416.3H289.9M289.8 1324.7V1407.9M286.6 1324.7H293M286.6 1407.9H293M293 1288.3V1405.7M289.8 1288.3H296.2M289.8 1405.7H296.2M296.4 1241.5V1411.1M293.2 1241.5H299.6M293.2 1411.1H299.6M298.9 1214.3V1404.6M295.7 1214.3H302.1M295.7 1404.6H302.1M302.2 1227.8V1385M299 1227.8H305.4M299 1385H305.4M305.6 1243.6V1370.5M302.4 1243.6H308.8M302.4 1370.5H308.8M308.8 1255.3V1377.5M305.6 1255.3H312M305.6 1377.5H312M311.9 1266.6V1405M308.7 1266.6H315.1M308.7 1405H315.1M315.2 1303.9V1414.5M312 1303.9H318.4M312 1414.5H318.4M318.3 1344.8V1414.2M315.1 1344.8H321.5M315.1 1414.2H321.5M321.1 1371.9V1412.8M317.9 1371.9H324.3M317.9 1412.8H324.3M324 1383.2V1413.5M320.8 1383.2H327.2M320.8 1413.5H327.2M327.1 1388.8V1413.5M323.9 1388.8H330.3M323.9 1413.5H330.3M330.2 1394.5V1410M327 1394.5H333.4M327 1410H333.4M333.5 1397.3V1410M330.3 1397.3H336.7M330.3 1410H336.7M336.6 1398V1410M333.4 1398H339.8M333.4 1410H339.8M339.8 1398.7V1410M336.6 1398.7H343M336.6 1410H343" stroke="#000" stroke-width="1.25" fill="none"/>
<polyline points="142.1,1409 145.3,1408.3 148.5,1407.9 151.9,1407.1 155.1,1405 158.4,1402.9 161.5,1399.4 165,1393.5 168.1,1384.6 171.3,1378.2 174.4,1372.6 177.7,1365.5 180.8,1356.7 183.7,1343 186.8,1339.5 190.1,1337.3 193.2,1338.1 196.3,1342.6 199.5,1348.2 202.6,1361.7 205.9,1374 209,1384.6 211.9,1390.9 215,1397 218.3,1399.4 221.4,1400.5 224.5,1401.5 227.7,1401.9 230.8,1402.2 234.1,1402.6 237.2,1402.9 240.4,1402.6 243.5,1401.5 246.8,1400.8 249.9,1400.8 253.1,1401.9 256.2,1402.6 259.5,1402.9 262.6,1403.6 265.8,1402.2 268.9,1401.5 272.2,1402.6 275.3,1401.5 277.8,1400.1 280.6,1396.6 283.7,1387.8 286.7,1378.9 289.8,1366.3 293,1347.2 296.4,1326.4 298.9,1309.6 302.2,1306.3 305.6,1307.3 308.8,1316.5 311.9,1335.5 315.2,1358.9 318.3,1379.7 321.1,1392.3 324,1397.3 327.1,1400.8 330.2,1402.6 333.5,1403.6 336.6,1404 339.8,1404.3" fill="none" stroke="#111" stroke-width="1.0"/>
<g fill="#f40000" stroke="#111" stroke-width="1.0"><circle cx="142.1" cy="1409" r="4.4"/><circle cx="145.3" cy="1408.3" r="4.4"/><circle cx="148.5" cy="1407.9" r="4.4"/><circle cx="151.9" cy="1407.1" r="4.4"/><circle cx="155.1" cy="1405" r="4.4"/><circle cx="158.4" cy="1402.9" r="4.4"/><circle cx="161.5" cy="1399.4" r="4.4"/><circle cx="165" cy="1393.5" r="4.4"/><circle cx="168.1" cy="1384.6" r="4.4"/><circle cx="171.3" cy="1378.2" r="4.4"/><circle cx="174.4" cy="1372.6" r="4.4"/><circle cx="177.7" cy="1365.5" r="4.4"/><circle cx="180.8" cy="1356.7" r="4.4"/><circle cx="183.7" cy="1343" r="4.4"/><circle cx="186.8" cy="1339.5" r="4.4"/><circle cx="190.1" cy="1337.3" r="4.4"/><circle cx="193.2" cy="1338.1" r="4.4"/><circle cx="196.3" cy="1342.6" r="4.4"/><circle cx="199.5" cy="1348.2" r="4.4"/><circle cx="202.6" cy="1361.7" r="4.4"/><circle cx="205.9" cy="1374" r="4.4"/><circle cx="209" cy="1384.6" r="4.4"/><circle cx="211.9" cy="1390.9" r="4.4"/><circle cx="215" cy="1397" r="4.4"/><circle cx="218.3" cy="1399.4" r="4.4"/><circle cx="221.4" cy="1400.5" r="4.4"/><circle cx="224.5" cy="1401.5" r="4.4"/><circle cx="227.7" cy="1401.9" r="4.4"/><circle cx="230.8" cy="1402.2" r="4.4"/><circle cx="234.1" cy="1402.6" r="4.4"/><circle cx="237.2" cy="1402.9" r="4.4"/><circle cx="240.4" cy="1402.6" r="4.4"/><circle cx="243.5" cy="1401.5" r="4.4"/><circle cx="246.8" cy="1400.8" r="4.4"/><circle cx="249.9" cy="1400.8" r="4.4"/><circle cx="253.1" cy="1401.9" r="4.4"/><circle cx="256.2" cy="1402.6" r="4.4"/><circle cx="259.5" cy="1402.9" r="4.4"/><circle cx="262.6" cy="1403.6" r="4.4"/><circle cx="265.8" cy="1402.2" r="4.4"/><circle cx="268.9" cy="1401.5" r="4.4"/><circle cx="272.2" cy="1402.6" r="4.4"/><circle cx="275.3" cy="1401.5" r="4.4"/><circle cx="277.8" cy="1400.1" r="4.4"/><circle cx="280.6" cy="1396.6" r="4.4"/><circle cx="283.7" cy="1387.8" r="4.4"/><circle cx="286.7" cy="1378.9" r="4.4"/><circle cx="289.8" cy="1366.3" r="4.4"/><circle cx="293" cy="1347.2" r="4.4"/><circle cx="296.4" cy="1326.4" r="4.4"/><circle cx="298.9" cy="1309.6" r="4.4"/><circle cx="302.2" cy="1306.3" r="4.4"/><circle cx="305.6" cy="1307.3" r="4.4"/><circle cx="308.8" cy="1316.5" r="4.4"/><circle cx="311.9" cy="1335.5" r="4.4"/><circle cx="315.2" cy="1358.9" r="4.4"/><circle cx="318.3" cy="1379.7" r="4.4"/><circle cx="321.1" cy="1392.3" r="4.4"/><circle cx="324" cy="1397.3" r="4.4"/><circle cx="327.1" cy="1400.8" r="4.4"/><circle cx="330.2" cy="1402.6" r="4.4"/><circle cx="333.5" cy="1403.6" r="4.4"/><circle cx="336.6" cy="1404" r="4.4"/><circle cx="339.8" cy="1404.3" r="4.4"/></g>
<path d="M117.8 1201.7V1409.8M111.3 1202.7H117.8M111.3 1305.7H117.8M111.3 1408.8H117.8M139.3 1432.3H343.4M140.3 1432.3V1438.8M241 1432.3V1438.8M342.4 1432.3V1438.8" stroke="#000" stroke-width="2.0" fill="none"/>
<text x="108.8" y="1210.1" font-size="23" text-anchor="end">2</text>
<text x="108.8" y="1313.1" font-size="23" text-anchor="end">1</text>
<text x="108.8" y="1416.2" font-size="23" text-anchor="end">0</text>
<text x="140.3" y="1462.6" font-size="23" text-anchor="middle">0.0</text>
<text x="241" y="1462.6" font-size="23" text-anchor="middle">2.5</text>
<text x="342.4" y="1462.6" font-size="23" text-anchor="middle">5.0</text>
<text x="56.1" y="1303.5" font-size="23.7" text-anchor="middle" transform="rotate(-90 56.1 1303.5)">Fluorescence Intensity</text>
<text x="86.8" y="1304.9" font-size="23.5" text-anchor="middle" transform="rotate(-90 86.8 1304.9)">(Normalized)</text>
<text x="240.4" y="1493.4" font-size="23" text-anchor="middle">Length (µm)</text>
<text x="123.5" y="1164.2" font-size="31.2">RT + 2 mM Mg<tspan dx="2.5" dy="-13.5" font-size="23.5">2+</tspan></text>
<path d="M570.3 1407.9V1410M567.1 1407.9H573.5M567.1 1410H573.5M573.5 1407.7V1410M570.3 1407.7H576.7M570.3 1410H576.7M576.6 1407.6V1410M573.4 1407.6H579.8M573.4 1410H579.8M579.8 1407.5V1410M576.6 1407.5H583M576.6 1410H583M582.9 1407.4V1410M579.7 1407.4H586.1M579.7 1410H586.1M586.1 1407.3V1410M582.9 1407.3H589.3M582.9 1410H589.3M589.2 1407.2V1410M586 1407.2H592.4M586 1410H592.4M592.4 1403V1410.8M589.2 1403H595.6M589.2 1410.8H595.6M595.5 1398.6V1411.7M592.3 1398.6H598.7M592.3 1411.7H598.7M598.7 1394.2V1412.6M595.5 1394.2H601.9M595.5 1412.6H601.9M601.8 1388.8V1413.5M598.6 1388.8H605M598.6 1413.5H605M605 1376.7V1414.3M601.8 1376.7H608.2M601.8 1414.3H608.2M608.1 1361.2V1418.2M604.9 1361.2H611.3M604.9 1418.2H611.3M611.3 1346.1V1419.7M608.1 1346.1H614.5M608.1 1419.7H614.5M614.4 1327.6V1417.3M611.2 1327.6H617.6M611.2 1417.3H617.6M617.6 1314.7V1411.3M614.4 1314.7H620.8M614.4 1411.3H620.8M620.7 1305.3V1405.5M617.5 1305.3H623.9M617.5 1405.5H623.9M623.9 1293.2V1395M620.7 1293.2H627.1M620.7 1395H627.1M627 1284.8V1381.2M623.8 1284.8H630.2M623.8 1381.2H630.2M630.2 1281.1V1368.4M627 1281.1H633.4M627 1368.4H633.4M633.3 1280.1V1360.2M630.1 1280.1H636.5M630.1 1360.2H636.5M636.5 1279.8V1354.4M633.3 1279.8H639.7M633.3 1354.4H639.7M639.6 1287.1V1346.3M636.4 1287.1H642.8M636.4 1346.3H642.8M642.8 1294.6V1343.8M639.6 1294.6H646M639.6 1343.8H646M645.9 1300.5V1344.5M642.7 1300.5H649.1M642.7 1344.5H649.1M649.1 1294.9V1345.3M645.9 1294.9H652.3M645.9 1345.3H652.3M652.2 1292.3V1347.4M649 1292.3H655.4M649 1347.4H655.4M655.4 1283.7V1346.2M652.2 1283.7H658.6M652.2 1346.2H658.6M658.5 1282.4V1345.7M655.3 1282.4H661.7M655.3 1345.7H661.7M661.7 1278.8V1345.3M658.5 1278.8H664.9M658.5 1345.3H664.9M664.8 1276.6V1346.3M661.6 1276.6H668M661.6 1346.3H668M668 1276.4V1346.7M664.8 1276.4H671.2M664.8 1346.7H671.2M671.1 1279.7V1345.3M667.9 1279.7H674.3M667.9 1345.3H674.3M674.3 1282.5V1342.1M671.1 1282.5H677.5M671.1 1342.1H677.5M677.4 1278.1V1340.7M674.2 1278.1H680.6M674.2 1340.7H680.6M680.6 1275.5V1337.9M677.4 1275.5H683.8M677.4 1337.9H683.8M683.7 1275V1340.6M680.5 1275H686.9M680.5 1340.6H686.9M686.9 1276.6V1344.1M683.7 1276.6H690.1M683.7 1344.1H690.1M690 1284.1V1344.8M686.8 1284.1H693.2M686.8 1344.8H693.2M693.2 1291.9V1347M690 1291.9H696.4M690 1347H696.4M696.3 1300.3V1349.5M693.1 1300.3H699.5M693.1 1349.5H699.5M699.5 1305.1V1351.1M696.3 1305.1H702.7M696.3 1351.1H702.7M702.6 1301.9V1353M699.4 1301.9H705.8M699.4 1353H705.8M705.8 1297.8V1354.1M702.6 1297.8H709M702.6 1354.1H709M708.9 1293.7V1358M705.7 1293.7H712.1M705.7 1358H712.1M712.1 1294.9V1364.4M708.9 1294.9H715.3M708.9 1364.4H715.3M715.2 1298.3V1371.3M712 1298.3H718.4M712 1371.3H718.4M718.4 1301.7V1382.6M715.2 1301.7H721.6M715.2 1382.6H721.6M721.5 1303.5V1390.4M718.3 1303.5H724.7M718.3 1390.4H724.7M724.7 1303.7V1398.3M721.5 1303.7H727.9M721.5 1398.3H727.9M727.8 1305.2V1406.4M724.6 1305.2H731M724.6 1406.4H731M731 1307.7V1412.3M727.8 1307.7H734.2M727.8 1412.3H734.2M734.1 1311.3V1414.7M730.9 1311.3H737.3M730.9 1414.7H737.3M737.3 1319.6V1417.6M734.1 1319.6H740.5M734.1 1417.6H740.5M740.4 1325.2V1420.9M737.2 1325.2H743.6M737.2 1420.9H743.6M743.6 1332.3V1425.6M740.4 1332.3H746.8M740.4 1425.6H746.8M746.7 1339.4V1426.9M743.5 1339.4H749.9M743.5 1426.9H749.9M749.9 1349.7V1426.5M746.7 1349.7H753.1M746.7 1426.5H753.1M753 1355.9V1421M749.8 1355.9H756.2M749.8 1421H756.2M756.2 1371.6V1415.4M753 1371.6H759.4M753 1415.4H759.4M759.3 1385.6V1412.7M756.1 1385.6H762.5M756.1 1412.7H762.5M762.5 1395.4V1411.3M759.3 1395.4H765.7M759.3 1411.3H765.7M765.7 1400.1V1410.7M762.5 1400.1H768.9M762.5 1410.7H768.9M768.8 1402.9V1410M765.6 1402.9H772M765.6 1410H772M772 1405.7V1409.3M768.8 1405.7H775.2M768.8 1409.3H775.2" stroke="#000" stroke-width="1.25" fill="none"/>
<polyline points="570.3,1409 573.5,1408.9 576.6,1408.8 579.8,1408.8 582.9,1408.7 586.1,1408.6 589.2,1408.6 592.4,1407.4 595.5,1406 598.7,1403.5 601.8,1400.5 605,1396.3 608.1,1389.5 611.3,1382.9 614.4,1373 617.6,1363.1 620.7,1354.7 623.9,1343.9 627,1333.2 630.2,1324.7 633.3,1319.5 636.5,1316.6 639.6,1316.6 642.8,1318.7 645.9,1322.2 649.1,1320.5 652.2,1319.8 655.4,1314.6 658.5,1313.2 661.7,1312.3 664.8,1311.7 668,1312.5 671.1,1312.7 674.3,1310.7 677.4,1307.7 680.6,1306.2 683.7,1307.6 686.9,1310.7 690,1314.7 693.2,1319.6 696.3,1323.9 699.5,1326.1 702.6,1326.2 705.8,1324.7 708.9,1325.3 712.1,1327.4 715.2,1331.9 718.4,1338.8 721.5,1344.3 724.7,1350.1 727.8,1355.6 731,1359.8 734.1,1365.3 737.3,1370.3 740.4,1375.9 743.6,1382.2 746.7,1386.9 749.9,1390.5 753,1394.7 756.2,1399.6 759.3,1403 762.5,1405.8 765.7,1407.2 768.8,1407.9 772,1407.9" fill="none" stroke="#111" stroke-width="1.0"/>
<g fill="#4d9cf4" stroke="#111" stroke-width="1.0"><circle cx="570.3" cy="1409" r="4.4"/><circle cx="573.5" cy="1408.9" r="4.4"/><circle cx="576.6" cy="1408.8" r="4.4"/><circle cx="579.8" cy="1408.8" r="4.4"/><circle cx="582.9" cy="1408.7" r="4.4"/><circle cx="586.1" cy="1408.6" r="4.4"/><circle cx="589.2" cy="1408.6" r="4.4"/><circle cx="592.4" cy="1407.4" r="4.4"/><circle cx="595.5" cy="1406" r="4.4"/><circle cx="598.7" cy="1403.5" r="4.4"/><circle cx="601.8" cy="1400.5" r="4.4"/><circle cx="605" cy="1396.3" r="4.4"/><circle cx="608.1" cy="1389.5" r="4.4"/><circle cx="611.3" cy="1382.9" r="4.4"/><circle cx="614.4" cy="1373" r="4.4"/><circle cx="617.6" cy="1363.1" r="4.4"/><circle cx="620.7" cy="1354.7" r="4.4"/><circle cx="623.9" cy="1343.9" r="4.4"/><circle cx="627" cy="1333.2" r="4.4"/><circle cx="630.2" cy="1324.7" r="4.4"/><circle cx="633.3" cy="1319.5" r="4.4"/><circle cx="636.5" cy="1316.6" r="4.4"/><circle cx="639.6" cy="1316.6" r="4.4"/><circle cx="642.8" cy="1318.7" r="4.4"/><circle cx="645.9" cy="1322.2" r="4.4"/><circle cx="649.1" cy="1320.5" r="4.4"/><circle cx="652.2" cy="1319.8" r="4.4"/><circle cx="655.4" cy="1314.6" r="4.4"/><circle cx="658.5" cy="1313.2" r="4.4"/><circle cx="661.7" cy="1312.3" r="4.4"/><circle cx="664.8" cy="1311.7" r="4.4"/><circle cx="668" cy="1312.5" r="4.4"/><circle cx="671.1" cy="1312.7" r="4.4"/><circle cx="674.3" cy="1310.7" r="4.4"/><circle cx="677.4" cy="1307.7" r="4.4"/><circle cx="680.6" cy="1306.2" r="4.4"/><circle cx="683.7" cy="1307.6" r="4.4"/><circle cx="686.9" cy="1310.7" r="4.4"/><circle cx="690" cy="1314.7" r="4.4"/><circle cx="693.2" cy="1319.6" r="4.4"/><circle cx="696.3" cy="1323.9" r="4.4"/><circle cx="699.5" cy="1326.1" r="4.4"/><circle cx="702.6" cy="1326.2" r="4.4"/><circle cx="705.8" cy="1324.7" r="4.4"/><circle cx="708.9" cy="1325.3" r="4.4"/><circle cx="712.1" cy="1327.4" r="4.4"/><circle cx="715.2" cy="1331.9" r="4.4"/><circle cx="718.4" cy="1338.8" r="4.4"/><circle cx="721.5" cy="1344.3" r="4.4"/><circle cx="724.7" cy="1350.1" r="4.4"/><circle cx="727.8" cy="1355.6" r="4.4"/><circle cx="731" cy="1359.8" r="4.4"/><circle cx="734.1" cy="1365.3" r="4.4"/><circle cx="737.3" cy="1370.3" r="4.4"/><circle cx="740.4" cy="1375.9" r="4.4"/><circle cx="743.6" cy="1382.2" r="4.4"/><circle cx="746.7" cy="1386.9" r="4.4"/><circle cx="749.9" cy="1390.5" r="4.4"/><circle cx="753" cy="1394.7" r="4.4"/><circle cx="756.2" cy="1399.6" r="4.4"/><circle cx="759.3" cy="1403" r="4.4"/><circle cx="762.5" cy="1405.8" r="4.4"/><circle cx="765.7" cy="1407.2" r="4.4"/><circle cx="768.8" cy="1407.9" r="4.4"/><circle cx="772" cy="1407.9" r="4.4"/></g>
<path d="M548.7 1201.7V1409.8M542.2 1202.7H548.7M542.2 1305.7H548.7M542.2 1408.8H548.7M570.3 1432.8H774.6M571.3 1432.8V1439.3M672.3 1432.8V1439.3M773.6 1432.8V1439.3" stroke="#000" stroke-width="2.0" fill="none"/>
<text x="539.7" y="1210.1" font-size="23" text-anchor="end">2</text>
<text x="539.7" y="1313.1" font-size="23" text-anchor="end">1</text>
<text x="539.7" y="1416.2" font-size="23" text-anchor="end">0</text>
<text x="571.3" y="1462.6" font-size="23" text-anchor="middle">0.0</text>
<text x="672.3" y="1462.6" font-size="23" text-anchor="middle">2.5</text>
<text x="773.6" y="1462.6" font-size="23" text-anchor="middle">5.0</text>
<text x="485.9" y="1304" font-size="23.7" text-anchor="middle" transform="rotate(-90 485.9 1304)">Fluorescence Intensity</text>
<text x="519.4" y="1301" font-size="23.5" text-anchor="middle" transform="rotate(-90 519.4 1301)">(Normalized)</text>
<text x="671.6" y="1492.8" font-size="23" text-anchor="middle">Length (µm)</text>
<text x="548" y="1164.2" font-size="31.2">4 °C + 2 mM Mg<tspan dx="2.5" dy="-13.5" font-size="23.5">2+</tspan></text>
<path d="M1028.2 1395.3V1408.2M1025.4 1395.3H1031M1025.4 1408.2H1031M1036.8 1366.8V1405.2M1034 1366.8H1039.6M1034 1405.2H1039.6M1045.5 1363.8V1402M1042.7 1363.8H1048.3M1042.7 1402H1048.3M1054.2 1375.5V1397.3M1051.4 1375.5H1057M1051.4 1397.3H1057M1062.9 1338.2V1391.6M1060.1 1338.2H1065.7M1060.1 1391.6H1065.7M1071.1 1277.4V1364.3M1068.3 1277.4H1073.9M1068.3 1364.3H1073.9M1079.8 1268.8V1328.8M1077 1268.8H1082.6M1077 1328.8H1082.6M1088.5 1321.4V1376.7M1085.7 1321.4H1091.3M1085.7 1376.7H1091.3M1097.1 1363.8V1392.3M1094.3 1363.8H1099.9M1094.3 1392.3H1099.9M1105.8 1367.3V1396.6M1103 1367.3H1108.6M1103 1396.6H1108.6M1114.5 1365.5V1396.6M1111.7 1365.5H1117.3M1111.7 1396.6H1117.3M1123.2 1364.3V1400.3M1120.4 1364.3H1126M1120.4 1400.3H1126M1131.9 1365.5V1399M1129.1 1365.5H1134.7M1129.1 1399H1134.7M1140.6 1351.9V1393.6M1137.8 1351.9H1143.4M1137.8 1393.6H1143.4M1149.3 1335.3V1380.4M1146.5 1335.3H1152.1M1146.5 1380.4H1152.1M1157.5 1308.5V1375.5M1154.7 1308.5H1160.3M1154.7 1375.5H1160.3M1166.1 1268.8V1353.9M1163.3 1268.8H1168.9M1163.3 1353.9H1168.9M1174.8 1281.2V1369.3M1172 1281.2H1177.6M1172 1369.3H1177.6M1183.3 1332.8V1394.1M1180.5 1332.8H1186.1M1180.5 1394.1H1186.1M1191.9 1345.7V1391.6M1189.1 1345.7H1194.7M1189.1 1391.6H1194.7M1200.6 1344.9V1412.7M1197.8 1344.9H1203.4M1197.8 1412.7H1203.4M1209.3 1389.9V1406.5M1206.5 1389.9H1212.1M1206.5 1406.5H1212.1" stroke="#000" stroke-width="1.6" fill="none"/>
<polyline points="1002.1,1371.7 1010.8,1383.7 1019.5,1396.1 1028.2,1402 1036.8,1386.1 1045.5,1382.9 1054.2,1386.9 1062.9,1365.5 1071.1,1320.9 1079.8,1298.5 1088.5,1348.9 1097.1,1378.4 1105.8,1381.7 1114.5,1381.7 1123.2,1382.4 1131.9,1382.4 1140.6,1373 1149.3,1358.6 1157.5,1342.2 1166.1,1311.4 1174.8,1325.3 1183.3,1363.6 1191.9,1368.8 1200.6,1378.7 1209.3,1397.8" fill="none" stroke="#111" stroke-width="1.4"/>
<g fill="#f40000" stroke="#111" stroke-width="1.0"><circle cx="1002.1" cy="1371.7" r="4.5"/><circle cx="1010.8" cy="1383.7" r="4.5"/><circle cx="1019.5" cy="1396.1" r="4.5"/><circle cx="1028.2" cy="1402" r="4.5"/><circle cx="1036.8" cy="1386.1" r="4.5"/><circle cx="1045.5" cy="1382.9" r="4.5"/><circle cx="1054.2" cy="1386.9" r="4.5"/><circle cx="1062.9" cy="1365.5" r="4.5"/><circle cx="1071.1" cy="1320.9" r="4.5"/><circle cx="1079.8" cy="1298.5" r="4.5"/><circle cx="1088.5" cy="1348.9" r="4.5"/><circle cx="1097.1" cy="1378.4" r="4.5"/><circle cx="1105.8" cy="1381.7" r="4.5"/><circle cx="1114.5" cy="1381.7" r="4.5"/><circle cx="1123.2" cy="1382.4" r="4.5"/><circle cx="1131.9" cy="1382.4" r="4.5"/><circle cx="1140.6" cy="1373" r="4.5"/><circle cx="1149.3" cy="1358.6" r="4.5"/><circle cx="1157.5" cy="1342.2" r="4.5"/><circle cx="1166.1" cy="1311.4" r="4.5"/><circle cx="1174.8" cy="1325.3" r="4.5"/><circle cx="1183.3" cy="1363.6" r="4.5"/><circle cx="1191.9" cy="1368.8" r="4.5"/><circle cx="1200.6" cy="1378.7" r="4.5"/><circle cx="1209.3" cy="1397.8" r="4.5"/></g>
<path d="M979.3 1192V1405M972.8 1193H979.3M972.8 1298.5H979.3M972.8 1404H979.3M1001.1 1428.3H1211M1002.1 1428.3V1434.8M1105.8 1428.3V1434.8M1210 1428.3V1434.8" stroke="#000" stroke-width="2.0" fill="none"/>
<text x="970.3" y="1200.4" font-size="23" text-anchor="end">2</text>
<text x="970.3" y="1305.9" font-size="23" text-anchor="end">1</text>
<text x="970.3" y="1411.4" font-size="23" text-anchor="end">0</text>
<text x="1002.1" y="1459.8" font-size="23" text-anchor="middle">0.0</text>
<text x="1105.8" y="1459.8" font-size="23" text-anchor="middle">2.5</text>
<text x="1210" y="1459.8" font-size="23" text-anchor="middle">5.0</text>
<text x="911.8" y="1294.8" font-size="24.7" text-anchor="middle" transform="rotate(-90 911.8 1294.8)">Fluorescence Intensity</text>
<text x="946.5" y="1295.4" font-size="24.7" text-anchor="middle" transform="rotate(-90 946.5 1295.4)">(Normalized)</text>
<text x="1106.7" y="1492" font-size="24" text-anchor="middle">Length (µm)</text>
<text x="915.5" y="1154.1" font-size="32">RT + 2 mM Mg<tspan dx="2.5" dy="-13.5" font-size="23.5">2+</tspan><tspan dy="13.5" dx="-2" letter-spacing="-0.45"> transferred</tspan></text>
<text x="981" y="1191.6" font-size="32" xml:space="preserve" letter-spacing="0.32">into dWB at 37  °C</text>
<path d="M1441.4 1364.1V1431.5M1436.6 1364.1H1446.2M1450.2 1340.9V1431.5M1445.4 1340.9H1455M1458.7 1326.8V1390.8M1453.9 1326.8H1463.5M1453.9 1390.8H1463.5M1467.5 1271.5V1342.8M1462.7 1271.5H1472.3M1462.7 1342.8H1472.3M1476.1 1221.4V1303.6M1471.3 1221.4H1480.9M1471.3 1303.6H1480.9M1484.9 1220.1V1316.1M1480.1 1220.1H1489.7M1480.1 1316.1H1489.7M1493.4 1267.3V1318M1488.6 1267.3H1498.2M1488.6 1318H1498.2M1502 1262.7V1327.6M1497.2 1262.7H1506.8M1497.2 1327.6H1506.8M1510.8 1232.6V1342M1506 1232.6H1515.6M1506 1342H1515.6M1519.3 1227.3V1351.6M1514.5 1227.3H1524.1M1514.5 1351.6H1524.1M1528.1 1272.6V1331.6M1523.3 1272.6H1532.9M1523.3 1331.6H1532.9M1536.6 1266.7V1324.9M1531.8 1266.7H1541.4M1531.8 1324.9H1541.4M1545.4 1252.9V1322.8M1540.6 1252.9H1550.2M1540.6 1322.8H1550.2M1554 1216.8V1362M1549.2 1216.8H1558.8M1549.2 1362H1558.8M1562.8 1253.4V1385.5M1558 1253.4H1567.6M1558 1385.5H1567.6M1571.3 1295.3V1424.1M1566.5 1295.3H1576.1M1566.5 1424.1H1576.1M1580.1 1296.6V1431.5M1575.3 1296.6H1584.9M1588.7 1342V1431.5M1583.9 1342H1593.5M1597.5 1355.3V1431.5M1592.7 1355.3H1602.3M1606 1326V1419.3M1601.2 1326H1610.8M1601.2 1419.3H1610.8M1614.8 1364.1V1431.5M1610 1364.1H1619.6M1623.3 1342V1431.5M1618.5 1342H1628.1M1632.1 1355.3V1431.5M1627.3 1355.3H1636.9" stroke="#000" stroke-width="2" fill="none"/>
<polyline points="1441.4,1404.1 1450.2,1383.6 1458.7,1358.2 1467.5,1307.3 1476.1,1262.2 1484.9,1268.1 1493.4,1292.6 1502,1295.5 1510.8,1287.3 1519.3,1288.9 1528.1,1302.8 1536.6,1296.1 1545.4,1287.5 1554,1289.4 1562.8,1319.6 1571.3,1359.3 1580.1,1371.6 1588.7,1395.3 1597.5,1398.8 1606,1372.6 1614.8,1396.7 1623.3,1395.3 1632.1,1398.8" fill="none" stroke="#111" stroke-width="2"/>
<g fill="#f40000" stroke="#111" stroke-width="1.3"><circle cx="1441.4" cy="1404.1" r="4.0"/><circle cx="1450.2" cy="1383.6" r="4.0"/><circle cx="1458.7" cy="1358.2" r="4.0"/><circle cx="1467.5" cy="1307.3" r="4.0"/><circle cx="1476.1" cy="1262.2" r="4.0"/><circle cx="1484.9" cy="1268.1" r="4.0"/><circle cx="1493.4" cy="1292.6" r="4.0"/><circle cx="1502" cy="1295.5" r="4.0"/><circle cx="1510.8" cy="1287.3" r="4.0"/><circle cx="1519.3" cy="1288.9" r="4.0"/><circle cx="1528.1" cy="1302.8" r="4.0"/><circle cx="1536.6" cy="1296.1" r="4.0"/><circle cx="1545.4" cy="1287.5" r="4.0"/><circle cx="1554" cy="1289.4" r="4.0"/><circle cx="1562.8" cy="1319.6" r="4.0"/><circle cx="1571.3" cy="1359.3" r="4.0"/><circle cx="1580.1" cy="1371.6" r="4.0"/><circle cx="1588.7" cy="1395.3" r="4.0"/><circle cx="1597.5" cy="1398.8" r="4.0"/><circle cx="1606" cy="1372.6" r="4.0"/><circle cx="1614.8" cy="1396.7" r="4.0"/><circle cx="1623.3" cy="1395.3" r="4.0"/><circle cx="1632.1" cy="1398.8" r="4.0"/></g>
<path d="M1418.7 1191V1405.2M1412.2 1192H1418.7M1412.2 1298.8H1418.7M1412.2 1404.2H1418.7M1439.9 1427.6H1651M1440.9 1427.6V1434.1M1545.5 1427.6V1434.1M1650 1427.6V1434.1" stroke="#000" stroke-width="2.0" fill="none"/>
<text x="1405.7" y="1198.6" font-size="20.5" text-anchor="end">2</text>
<text x="1405.7" y="1305.4" font-size="20.5" text-anchor="end">1</text>
<text x="1405.7" y="1410.8" font-size="20.5" text-anchor="end">0</text>
<text x="1440.9" y="1457.5" font-size="20.5" text-anchor="middle">0.0</text>
<text x="1545.5" y="1457.5" font-size="20.5" text-anchor="middle">2.5</text>
<text x="1650" y="1457.5" font-size="20.5" text-anchor="middle">5.0</text>
<text x="1336" y="1298.1" font-size="24.7" text-anchor="middle" transform="rotate(-90 1336 1298.1)">Fluorescence Intensity</text>
<text x="1370.7" y="1298.8" font-size="24.7" text-anchor="middle" transform="rotate(-90 1370.7 1298.8)">(Normalized)</text>
<text x="1546.5" y="1488.2" font-size="24" text-anchor="middle">Length (µm)</text>
<text x="1346.5" y="1152.8" font-size="32.3">4 °C + 2 mM Mg<tspan dx="2.5" dy="-13.5" font-size="23.5">2+</tspan><tspan dy="13.5" dx="-1.7" letter-spacing="-0.42"> transferred</tspan></text>
<text x="1424.5" y="1188.8" font-size="32" xml:space="preserve" letter-spacing="0.3">into dWB at 37  °C</text>
<path d="M139.6 1873V1895.6M136.4 1873H142.8M136.4 1895.6H142.8M142.7 1880.1V1891.4M139.5 1880.1H145.9M139.5 1891.4H145.9M146 1881.5V1892.8M142.8 1881.5H149.2M142.8 1892.8H149.2M149.8 1878.7V1893.5M146.6 1878.7H153M146.6 1893.5H153M153 1849.1V1904.1M149.8 1849.1H156.2M149.8 1904.1H156.2M156.2 1823V1913.5M153 1823H159.4M159.4 1777.9V1913.5M156.2 1777.9H162.6M162.5 1765.9V1913.5M159.3 1765.9H165.7M165.7 1759.1V1913.5M162.5 1759.1H168.9M168.5 1761.7V1913.5M165.3 1761.7H171.7M171.8 1760.9V1904.8M168.6 1760.9H175M168.6 1904.8H175M175.1 1752.5V1891.4M171.9 1752.5H178.3M171.9 1891.4H178.3M178.4 1740.8V1878M175.2 1740.8H181.6M175.2 1878H181.6M181.5 1727.1V1871.9M178.3 1727.1H184.7M178.3 1871.9H184.7M184.7 1711.2V1870.9M181.5 1711.2H187.9M181.5 1870.9H187.9M187.3 1702.7V1867.6M184.1 1702.7H190.5M184.1 1867.6H190.5M190.4 1708.7V1861.3M187.2 1708.7H193.6M187.2 1861.3H193.6M193.9 1725V1850.3M190.7 1725H197.1M190.7 1850.3H197.1M197.1 1745.1V1837.8M193.9 1745.1H200.3M193.9 1837.8H200.3M200.5 1761.7V1830.5M197.3 1761.7H203.7M197.3 1830.5H203.7M203.8 1773.2V1839.2M200.6 1773.2H207M200.6 1839.2H207M207 1775.7V1852.2M203.8 1775.7H210.2M203.8 1852.2H210.2M210.1 1779V1860.7M206.9 1779H213.3M206.9 1860.7H213.3M213.2 1783V1856.2M210 1783H216.4M210 1856.2H216.4M216.5 1796.6V1853.3M213.3 1796.6H219.7M213.3 1853.3H219.7M219.7 1809.9V1849.4M216.5 1809.9H222.9M216.5 1849.4H222.9M222.8 1820.2V1855.5M219.6 1820.2H226M219.6 1855.5H226M225.9 1825.2V1860.8M222.7 1825.2H229.1M222.7 1860.8H229.1M229.1 1826.7V1865.7M225.9 1826.7H232.3M225.9 1865.7H232.3M232.4 1827.2V1867.3M229.2 1827.2H235.6M229.2 1867.3H235.6M235.5 1827.6V1868.4M232.3 1827.6H238.7M232.3 1868.4H238.7M238.6 1826.5V1869.5M235.4 1826.5H241.8M235.4 1869.5H241.8M241.8 1824.4V1869.2M238.6 1824.4H245M238.6 1869.2H245M244.9 1822.3V1868.8M241.7 1822.3H248.1M241.7 1868.8H248.1M248.2 1825.8V1869M245 1825.8H251.4M245 1869H251.4M251.3 1820.9V1869.1M248.1 1820.9H254.5M248.1 1869.1H254.5M254.5 1819.7V1868.6M251.3 1819.7H257.7M251.3 1868.6H257.7M257.6 1813.8V1868.1M254.4 1813.8H260.8M254.4 1868.1H260.8M260.9 1807.5V1871.4M257.7 1807.5H264.1M257.7 1871.4H264.1M264 1802.5V1870.2M260.8 1802.5H267.2M260.8 1870.2H267.2M267.2 1805.4V1868.1M264 1805.4H270.4M264 1868.1H270.4M270.3 1805.6V1866M267.1 1805.6H273.5M267.1 1866H273.5M273.6 1806.1V1863.9M270.4 1806.1H276.8M270.4 1863.9H276.8M276.7 1799V1861.5M273.5 1799H279.9M273.5 1861.5H279.9M279.2 1788.5V1852.5M276 1788.5H282.4M276 1852.5H282.4M282.7 1785V1845.5M279.5 1785H285.9M279.5 1845.5H285.9M286 1784.9V1840.4M282.8 1784.9H289.2M282.8 1840.4H289.2M289.4 1776.5V1829.6M286.2 1776.5H292.6M286.2 1829.6H292.6M292.6 1763.1V1828.2M289.4 1763.1H295.8M289.4 1828.2H295.8M295.8 1738V1835M292.6 1738H299M292.6 1835H299M298.9 1722.5V1845.5M295.7 1722.5H302.1M295.7 1845.5H302.1M302 1729.2V1856.1M298.8 1729.2H305.2M298.8 1856.1H305.2M305.3 1746.8V1861.8M302.1 1746.8H308.5M302.1 1861.8H308.5M308.5 1768.7V1869.1M305.3 1768.7H311.7M305.3 1869.1H311.7M311.6 1769.4V1880.1M308.4 1769.4H314.8M308.4 1880.1H314.8M314.7 1757.4V1892.4M311.5 1757.4H317.9M311.5 1892.4H317.9M318 1752.5V1903.4M314.8 1752.5H321.2M314.8 1903.4H321.2M321.1 1751.1V1913.5M317.9 1751.1H324.3M324.3 1768V1913.5M321.1 1768H327.5M327.4 1793.8V1913.5M324.2 1793.8H330.6M330.7 1822.3V1913.5M327.5 1822.3H333.9M333.8 1851.2V1905.2M330.6 1851.2H337M330.6 1905.2H337M337 1874.5V1892.1M333.8 1874.5H340.2M333.8 1892.1H340.2M340.1 1879.3V1891.7M336.9 1879.3H343.3M336.9 1891.7H343.3M343.4 1884.3V1891.4M340.2 1884.3H346.6M340.2 1891.4H346.6" stroke="#000" stroke-width="1.25" fill="none"/>
<polyline points="139.6,1884.3 142.7,1885.5 146,1887.1 149.8,1884.6 153,1876.6 156.2,1868.8 159.4,1853.7 162.5,1846.3 165.7,1841.3 168.5,1837.1 171.8,1832.9 175.1,1822 178.4,1809.6 181.5,1799.4 184.7,1790.6 187.3,1783.5 190.4,1784.5 193.9,1787 197.1,1790.6 200.5,1796.5 203.8,1807.1 207,1814.2 210.1,1820.6 213.2,1819.2 216.5,1825.1 219.7,1829.3 222.8,1837.8 225.9,1842.7 229.1,1846 232.4,1847.4 235.5,1848.4 238.6,1847.4 241.8,1846.3 244.9,1845.5 248.2,1846 251.3,1844.8 254.5,1843.4 257.6,1840.6 260.9,1838.5 264,1836.7 267.2,1836.7 270.3,1836.7 273.6,1835.3 276.7,1830 279.2,1818.3 282.7,1815.9 286,1812.1 289.4,1803.7 292.6,1795.5 295.8,1786.3 298.9,1783.5 302,1792.4 305.3,1804.2 308.5,1818.1 311.6,1824.4 314.7,1825.1 318,1827.6 321.1,1832.9 324.3,1844.8 327.4,1858.2 330.7,1869.9 333.8,1878 337,1884.3 340.1,1886.4 343.4,1888.3" fill="none" stroke="#111" stroke-width="1.0"/>
<g fill="#4d9cf4" stroke="#111" stroke-width="1.0"><circle cx="139.6" cy="1884.3" r="4.4"/><circle cx="142.7" cy="1885.5" r="4.4"/><circle cx="146" cy="1887.1" r="4.4"/><circle cx="149.8" cy="1884.6" r="4.4"/><circle cx="153" cy="1876.6" r="4.4"/><circle cx="156.2" cy="1868.8" r="4.4"/><circle cx="159.4" cy="1853.7" r="4.4"/><circle cx="162.5" cy="1846.3" r="4.4"/><circle cx="165.7" cy="1841.3" r="4.4"/><circle cx="168.5" cy="1837.1" r="4.4"/><circle cx="171.8" cy="1832.9" r="4.4"/><circle cx="175.1" cy="1822" r="4.4"/><circle cx="178.4" cy="1809.6" r="4.4"/><circle cx="181.5" cy="1799.4" r="4.4"/><circle cx="184.7" cy="1790.6" r="4.4"/><circle cx="187.3" cy="1783.5" r="4.4"/><circle cx="190.4" cy="1784.5" r="4.4"/><circle cx="193.9" cy="1787" r="4.4"/><circle cx="197.1" cy="1790.6" r="4.4"/><circle cx="200.5" cy="1796.5" r="4.4"/><circle cx="203.8" cy="1807.1" r="4.4"/><circle cx="207" cy="1814.2" r="4.4"/><circle cx="210.1" cy="1820.6" r="4.4"/><circle cx="213.2" cy="1819.2" r="4.4"/><circle cx="216.5" cy="1825.1" r="4.4"/><circle cx="219.7" cy="1829.3" r="4.4"/><circle cx="222.8" cy="1837.8" r="4.4"/><circle cx="225.9" cy="1842.7" r="4.4"/><circle cx="229.1" cy="1846" r="4.4"/><circle cx="232.4" cy="1847.4" r="4.4"/><circle cx="235.5" cy="1848.4" r="4.4"/><circle cx="238.6" cy="1847.4" r="4.4"/><circle cx="241.8" cy="1846.3" r="4.4"/><circle cx="244.9" cy="1845.5" r="4.4"/><circle cx="248.2" cy="1846" r="4.4"/><circle cx="251.3" cy="1844.8" r="4.4"/><circle cx="254.5" cy="1843.4" r="4.4"/><circle cx="257.6" cy="1840.6" r="4.4"/><circle cx="260.9" cy="1838.5" r="4.4"/><circle cx="264" cy="1836.7" r="4.4"/><circle cx="267.2" cy="1836.7" r="4.4"/><circle cx="270.3" cy="1836.7" r="4.4"/><circle cx="273.6" cy="1835.3" r="4.4"/><circle cx="276.7" cy="1830" r="4.4"/><circle cx="279.2" cy="1818.3" r="4.4"/><circle cx="282.7" cy="1815.9" r="4.4"/><circle cx="286" cy="1812.1" r="4.4"/><circle cx="289.4" cy="1803.7" r="4.4"/><circle cx="292.6" cy="1795.5" r="4.4"/><circle cx="295.8" cy="1786.3" r="4.4"/><circle cx="298.9" cy="1783.5" r="4.4"/><circle cx="302" cy="1792.4" r="4.4"/><circle cx="305.3" cy="1804.2" r="4.4"/><circle cx="308.5" cy="1818.1" r="4.4"/><circle cx="311.6" cy="1824.4" r="4.4"/><circle cx="314.7" cy="1825.1" r="4.4"/><circle cx="318" cy="1827.6" r="4.4"/><circle cx="321.1" cy="1832.9" r="4.4"/><circle cx="324.3" cy="1844.8" r="4.4"/><circle cx="327.4" cy="1858.2" r="4.4"/><circle cx="330.7" cy="1869.9" r="4.4"/><circle cx="333.8" cy="1878" r="4.4"/><circle cx="337" cy="1884.3" r="4.4"/><circle cx="340.1" cy="1886.4" r="4.4"/><circle cx="343.4" cy="1888.3" r="4.4"/></g>
<path d="M117.8 1678.2V1889.3M111.3 1679.2H117.8M111.3 1783.5H117.8M111.3 1888.3H117.8M139.3 1911.4H346.5M140.3 1911.4V1917.9M243.2 1911.4V1917.9M345.5 1911.4V1917.9" stroke="#000" stroke-width="2.0" fill="none"/>
<text x="108.8" y="1686.6" font-size="23" text-anchor="end">2</text>
<text x="108.8" y="1790.9" font-size="23" text-anchor="end">1</text>
<text x="108.8" y="1895.7" font-size="23" text-anchor="end">0</text>
<text x="140.3" y="1943.2" font-size="23" text-anchor="middle">0.0</text>
<text x="243.2" y="1943.2" font-size="23" text-anchor="middle">2.5</text>
<text x="345.5" y="1943.2" font-size="23" text-anchor="middle">5.0</text>
<text x="52.9" y="1779.5" font-size="24.3" text-anchor="middle" transform="rotate(-90 52.9 1779.5)">Fluorescence Intensity</text>
<text x="85.6" y="1778.5" font-size="24.6" text-anchor="middle" transform="rotate(-90 85.6 1778.5)">(Normalized)</text>
<text x="242.2" y="1973.2" font-size="24" text-anchor="middle">Length (µm)</text>
<text x="112" y="1640.7" font-size="32">4 °C + 4 mM Mg<tspan dx="2.5" dy="-13.5" font-size="23.5">2+</tspan></text>
<path d="M572.4 1870.9V1903.4M569.2 1870.9H575.6M569.2 1903.4H575.6M575.5 1854.7V1913.5M572.3 1854.7H578.7M578.8 1842V1913.5M575.6 1842H582M581.9 1830.7V1913.5M578.7 1830.7H585.1M585.1 1823V1913.5M581.9 1823H588.3M588.2 1818.8V1913.5M585 1818.8H591.4M591.5 1811.4V1913.5M588.3 1811.4H594.7M594.7 1807.9V1913.5M591.5 1807.9H597.9M598.1 1807.5V1903.4M594.9 1807.5H601.3M594.9 1903.4H601.3M601.3 1803.2V1890.7M598.1 1803.2H604.5M598.1 1890.7H604.5M604.9 1780.4V1885.5M601.7 1780.4H608.1M601.7 1885.5H608.1M607.7 1766.6V1878.7M604.5 1766.6H610.9M604.5 1878.7H610.9M610.5 1763.5V1873.8M607.3 1763.5H613.7M607.3 1873.8H613.7M613.6 1769.4V1864.3M610.4 1769.4H616.8M610.4 1864.3H616.8M617.3 1778.6V1859.7M614.1 1778.6H620.5M614.1 1859.7H620.5M620.4 1794.4V1861.8M617.2 1794.4H623.6M617.2 1861.8H623.6M623.5 1806.5V1857.3M620.3 1806.5H626.7M620.3 1857.3H626.7M626.7 1815V1859.7M623.5 1815H629.9M623.5 1859.7H629.9M629.8 1816.6V1861.8M626.6 1816.6H633M626.6 1861.8H633M633.1 1815.9V1868.8M629.9 1815.9H636.3M629.9 1868.8H636.3M636.2 1820.2V1868.8M633 1820.2H639.4M633 1868.8H639.4M639.4 1821.6V1869.5M636.2 1821.6H642.6M636.2 1869.5H642.6M642.5 1823.7V1870.5M639.3 1823.7H645.7M639.3 1870.5H645.7M645.8 1825.5V1870.9M642.6 1825.5H649M642.6 1870.9H649M648.9 1831.4V1871.9M645.7 1831.4H652.1M645.7 1871.9H652.1M652.1 1832.9V1873M648.9 1832.9H655.3M648.9 1873H655.3M655.3 1837.8V1873.8M652.1 1837.8H658.5M652.1 1873.8H658.5M658.4 1841.7V1874.5M655.2 1841.7H661.6M655.2 1874.5H661.6M661.5 1846.3V1874.5M658.3 1846.3H664.7M658.3 1874.5H664.7M664.8 1847.7V1875.9M661.6 1847.7H668M661.6 1875.9H668M667.6 1854V1875.9M664.4 1854H670.8M664.4 1875.9H670.8M670.7 1853.3V1874.7M667.5 1853.3H673.9M667.5 1874.7H673.9M674 1856.1V1874.5M670.8 1856.1H677.2M670.8 1874.5H677.2M677.1 1850.5V1876.6M673.9 1850.5H680.3M673.9 1876.6H680.3M680.3 1853.3V1878M677.1 1853.3H683.5M677.1 1878H683.5M683.4 1853.3V1873M680.2 1853.3H686.6M680.2 1873H686.6M686.6 1845.5V1873.8M683.4 1845.5H689.8M683.4 1873.8H689.8M689.7 1838.5V1868.8M686.5 1838.5H692.9M686.5 1868.8H692.9M693 1833.6V1865.3M689.8 1833.6H696.2M689.8 1865.3H696.2M696.1 1828.6V1864.3M692.9 1828.6H699.3M692.9 1864.3H699.3M699.3 1822.6V1860.4M696.1 1822.6H702.5M696.1 1860.4H702.5M702.4 1816.6V1863.5M699.2 1816.6H705.6M699.2 1863.5H705.6M705.7 1814.8V1863.2M702.5 1814.8H708.9M702.5 1863.2H708.9M708.8 1816.6V1864.6M705.6 1816.6H712M705.6 1864.6H712M712 1801.4V1873.8M708.8 1801.4H715.2M708.8 1873.8H715.2M715.3 1789.6V1878M712.1 1789.6H718.5M712.1 1878H718.5M718.7 1775.5V1876.6M715.5 1775.5H721.9M715.5 1876.6H721.9M721.9 1758.1V1873.8M718.7 1758.1H725.1M718.7 1873.8H725.1M725.1 1745.9V1863.2M721.9 1745.9H728.3M721.9 1863.2H728.3M728.2 1724.3V1863.9M725 1724.3H731.4M725 1863.9H731.4M731.3 1699.6V1868.1M728.1 1699.6H734.5M728.1 1868.1H734.5M734.6 1703.8V1872.3M731.4 1703.8H737.8M731.4 1872.3H737.8M737.7 1731.6V1876.6M734.5 1731.6H740.9M734.5 1876.6H740.9M740.9 1755.7V1884M737.7 1755.7H744.1M737.7 1884H744.1M744 1770.8V1897.3M740.8 1770.8H747.2M740.8 1897.3H747.2M747.3 1786.8V1909.7M744.1 1786.8H750.5M744.1 1909.7H750.5M750.4 1793.4V1913.5M747.2 1793.4H753.6M753.6 1797.6V1913.5M750.4 1797.6H756.8M756.7 1810.7V1913.5M753.5 1810.7H759.9M760 1825.5V1913.5M756.8 1825.5H763.2M763.1 1845.5V1906.9M759.9 1845.5H766.3M759.9 1906.9H766.3M766.3 1860.6V1901.2M763.1 1860.6H769.5M763.1 1901.2H769.5M769.4 1875.9V1894.2M766.2 1875.9H772.6M766.2 1894.2H772.6M772.7 1881.5V1893.5M769.5 1881.5H775.9M769.5 1893.5H775.9M775.8 1881.5V1894.9M772.6 1881.5H779M772.6 1894.9H779" stroke="#000" stroke-width="1.25" fill="none"/>
<polyline points="572.4,1887.1 575.5,1882.9 578.8,1878.7 581.9,1873.8 585.1,1868.8 588.2,1865.3 591.5,1861.8 594.7,1858.9 598.1,1855.4 601.3,1846.5 604.9,1833.1 607.7,1823.7 610.5,1819.5 613.6,1816.6 617.3,1818.8 620.4,1827.9 623.5,1830.7 626.7,1836.4 629.8,1839.9 633.1,1841.7 636.2,1843.4 639.4,1844.8 642.5,1846.5 645.8,1847.9 648.9,1850.2 652.1,1851.9 655.3,1854 658.4,1857.3 661.5,1859.7 664.8,1861.8 667.6,1865.3 670.7,1863.9 674,1866.3 677.1,1863.5 680.3,1866 683.4,1863.5 686.6,1859.9 689.7,1853.7 693,1850.2 696.1,1846.3 699.3,1842 702.4,1839.9 705.7,1838.5 708.8,1841.3 712,1837.8 715.3,1833.6 718.7,1826.1 721.9,1815.9 725.1,1804.2 728.2,1794.1 731.3,1783.5 734.6,1787.7 737.7,1803.7 740.9,1819.5 744,1834.3 747.3,1848.4 750.4,1857.5 753.6,1861.1 756.7,1865.3 760,1871.6 763.1,1875.2 766.3,1880.1 769.4,1885 772.7,1887.9 775.8,1888.3" fill="none" stroke="#111" stroke-width="1.0"/>
<g fill="#4d9cf4" stroke="#111" stroke-width="1.0"><circle cx="572.4" cy="1887.1" r="4.4"/><circle cx="575.5" cy="1882.9" r="4.4"/><circle cx="578.8" cy="1878.7" r="4.4"/><circle cx="581.9" cy="1873.8" r="4.4"/><circle cx="585.1" cy="1868.8" r="4.4"/><circle cx="588.2" cy="1865.3" r="4.4"/><circle cx="591.5" cy="1861.8" r="4.4"/><circle cx="594.7" cy="1858.9" r="4.4"/><circle cx="598.1" cy="1855.4" r="4.4"/><circle cx="601.3" cy="1846.5" r="4.4"/><circle cx="604.9" cy="1833.1" r="4.4"/><circle cx="607.7" cy="1823.7" r="4.4"/><circle cx="610.5" cy="1819.5" r="4.4"/><circle cx="613.6" cy="1816.6" r="4.4"/><circle cx="617.3" cy="1818.8" r="4.4"/><circle cx="620.4" cy="1827.9" r="4.4"/><circle cx="623.5" cy="1830.7" r="4.4"/><circle cx="626.7" cy="1836.4" r="4.4"/><circle cx="629.8" cy="1839.9" r="4.4"/><circle cx="633.1" cy="1841.7" r="4.4"/><circle cx="636.2" cy="1843.4" r="4.4"/><circle cx="639.4" cy="1844.8" r="4.4"/><circle cx="642.5" cy="1846.5" r="4.4"/><circle cx="645.8" cy="1847.9" r="4.4"/><circle cx="648.9" cy="1850.2" r="4.4"/><circle cx="652.1" cy="1851.9" r="4.4"/><circle cx="655.3" cy="1854" r="4.4"/><circle cx="658.4" cy="1857.3" r="4.4"/><circle cx="661.5" cy="1859.7" r="4.4"/><circle cx="664.8" cy="1861.8" r="4.4"/><circle cx="667.6" cy="1865.3" r="4.4"/><circle cx="670.7" cy="1863.9" r="4.4"/><circle cx="674" cy="1866.3" r="4.4"/><circle cx="677.1" cy="1863.5" r="4.4"/><circle cx="680.3" cy="1866" r="4.4"/><circle cx="683.4" cy="1863.5" r="4.4"/><circle cx="686.6" cy="1859.9" r="4.4"/><circle cx="689.7" cy="1853.7" r="4.4"/><circle cx="693" cy="1850.2" r="4.4"/><circle cx="696.1" cy="1846.3" r="4.4"/><circle cx="699.3" cy="1842" r="4.4"/><circle cx="702.4" cy="1839.9" r="4.4"/><circle cx="705.7" cy="1838.5" r="4.4"/><circle cx="708.8" cy="1841.3" r="4.4"/><circle cx="712" cy="1837.8" r="4.4"/><circle cx="715.3" cy="1833.6" r="4.4"/><circle cx="718.7" cy="1826.1" r="4.4"/><circle cx="721.9" cy="1815.9" r="4.4"/><circle cx="725.1" cy="1804.2" r="4.4"/><circle cx="728.2" cy="1794.1" r="4.4"/><circle cx="731.3" cy="1783.5" r="4.4"/><circle cx="734.6" cy="1787.7" r="4.4"/><circle cx="737.7" cy="1803.7" r="4.4"/><circle cx="740.9" cy="1819.5" r="4.4"/><circle cx="744" cy="1834.3" r="4.4"/><circle cx="747.3" cy="1848.4" r="4.4"/><circle cx="750.4" cy="1857.5" r="4.4"/><circle cx="753.6" cy="1861.1" r="4.4"/><circle cx="756.7" cy="1865.3" r="4.4"/><circle cx="760" cy="1871.6" r="4.4"/><circle cx="763.1" cy="1875.2" r="4.4"/><circle cx="766.3" cy="1880.1" r="4.4"/><circle cx="769.4" cy="1885" r="4.4"/><circle cx="772.7" cy="1887.9" r="4.4"/><circle cx="775.8" cy="1888.3" r="4.4"/></g>
<path d="M549.9 1678.2V1889.3M543.4 1679.2H549.9M543.4 1783.5H549.9M543.4 1888.3H549.9M572.1 1911.4H779.3M573.1 1911.4V1917.9M675.6 1911.4V1917.9M778.3 1911.4V1917.9" stroke="#000" stroke-width="2.0" fill="none"/>
<text x="540.9" y="1686.6" font-size="23" text-anchor="end">2</text>
<text x="540.9" y="1790.9" font-size="23" text-anchor="end">1</text>
<text x="540.9" y="1895.7" font-size="23" text-anchor="end">0</text>
<text x="573.1" y="1943.2" font-size="23" text-anchor="middle">0.0</text>
<text x="675.6" y="1943.2" font-size="23" text-anchor="middle">2.5</text>
<text x="778.3" y="1943.2" font-size="23" text-anchor="middle">5.0</text>
<text x="485.9" y="1779.5" font-size="24.3" text-anchor="middle" transform="rotate(-90 485.9 1779.5)">Fluorescence Intensity</text>
<text x="519.4" y="1778.5" font-size="24.6" text-anchor="middle" transform="rotate(-90 519.4 1778.5)">(Normalized)</text>
<text x="674.7" y="1973.2" font-size="24" text-anchor="middle">Length (µm)</text>
<text x="544.5" y="1640.7" font-size="32">4 °C + 6 mM Mg<tspan dx="2.5" dy="-13.5" font-size="23.5">2+</tspan></text>
<path d="M1004.6 1878.7V1890M1001.4 1878.7H1007.8M1001.4 1890H1007.8M1007.7 1879.4V1890M1004.5 1879.4H1010.9M1004.5 1890H1010.9M1011 1880.1V1890M1007.8 1880.1H1014.2M1007.8 1890H1014.2M1014.2 1878.3V1890M1011 1878.3H1017.4M1011 1890H1017.4M1017.3 1876.6V1890M1014.1 1876.6H1020.5M1014.1 1890H1020.5M1020.8 1868.5V1890M1017.6 1868.5H1024M1017.6 1890H1024M1024.1 1861.1V1890M1020.9 1861.1H1027.3M1020.9 1890H1027.3M1027.2 1838.5V1897M1024 1838.5H1030.4M1024 1897H1030.4M1030.4 1825.5V1898.4M1027.2 1825.5H1033.6M1027.2 1898.4H1033.6M1033.5 1815.2V1895.6M1030.3 1815.2H1036.7M1030.3 1895.6H1036.7M1036.8 1811.4V1885.7M1033.6 1811.4H1040M1033.6 1885.7H1040M1040.1 1807.9V1878.3M1036.9 1807.9H1043.3M1036.9 1878.3H1043.3M1043.4 1794.8V1873M1040.2 1794.8H1046.6M1040.2 1873H1046.6M1046.5 1782.1V1870.9M1043.3 1782.1H1049.7M1043.3 1870.9H1049.7M1049.7 1778.6V1868.8M1046.5 1778.6H1052.9M1046.5 1868.8H1052.9M1052.6 1770.8V1867M1049.4 1770.8H1055.8M1049.4 1867H1055.8M1056.1 1777.9V1861.8M1052.9 1777.9H1059.3M1052.9 1861.8H1059.3M1059.2 1784.2V1864.6M1056 1784.2H1062.4M1056 1864.6H1062.4M1062.4 1793.8V1868.1M1059.2 1793.8H1065.6M1059.2 1868.1H1065.6M1065.5 1804.6V1869.4M1062.3 1804.6H1068.7M1062.3 1869.4H1068.7M1068.3 1819.6V1869.8M1065.1 1819.6H1071.5M1065.1 1869.8H1071.5M1071.9 1830.9V1870.2M1068.7 1830.9H1075.1M1068.7 1870.2H1075.1M1074.8 1839.3V1873.1M1071.6 1839.3H1078M1071.6 1873.1H1078M1077.9 1844V1875.4M1074.7 1844H1081.1M1074.7 1875.4H1081.1M1081 1844.8V1877.1M1077.8 1844.8H1084.2M1077.8 1877.1H1084.2M1084.3 1845.9V1877.9M1081.1 1845.9H1087.5M1081.1 1877.9H1087.5M1087.4 1845.2V1878.5M1084.2 1845.2H1090.6M1084.2 1878.5H1090.6M1090.6 1844.5V1877M1087.4 1844.5H1093.8M1087.4 1877H1093.8M1093.9 1843.1V1876M1090.7 1843.1H1097.1M1090.7 1876H1097.1M1097 1840.6V1878.8M1093.8 1840.6H1100.2M1093.8 1878.8H1100.2M1100.2 1838.8V1876.9M1097 1838.8H1103.4M1097 1876.9H1103.4M1103.3 1839.6V1876.5M1100.1 1839.6H1106.5M1100.1 1876.5H1106.5M1106.6 1838.3V1877.7M1103.4 1838.3H1109.8M1103.4 1877.7H1109.8M1109.7 1834V1879.1M1106.5 1834H1112.9M1106.5 1879.1H1112.9M1112.9 1828.4V1879.9M1109.7 1828.4H1116.1M1109.7 1879.9H1116.1M1116 1823.4V1881.4M1112.8 1823.4H1119.2M1112.8 1881.4H1119.2M1119.1 1818.6V1881.1M1115.9 1818.6H1122.3M1115.9 1881.1H1122.3M1122.3 1814.6V1880.8M1119.1 1814.6H1125.5M1119.1 1880.8H1125.5M1125.6 1808.3V1881.4M1122.4 1808.3H1128.8M1122.4 1881.4H1128.8M1128.7 1797V1882.1M1125.5 1797H1131.9M1125.5 1882.1H1131.9M1131.9 1784.7V1883.6M1128.7 1784.7H1135.1M1128.7 1883.6H1135.1M1135.3 1760.5V1883.3M1132.1 1760.5H1138.5M1132.1 1883.3H1138.5M1138.6 1720.2V1889.1M1135.4 1720.2H1141.8M1135.4 1889.1H1141.8M1141.1 1693.5V1894.5M1137.9 1693.5H1144.3M1137.9 1894.5H1144.3M1144.6 1679.6V1892.9M1141.4 1679.6H1147.8M1141.4 1892.9H1147.8M1147.7 1688.5V1887.7M1144.5 1688.5H1150.9M1144.5 1887.7H1150.9M1151 1722.3V1878.4M1147.8 1722.3H1154.2M1147.8 1878.4H1154.2M1154.4 1755.2V1868M1151.2 1755.2H1157.6M1151.2 1868H1157.6M1157.6 1771V1871.8M1154.4 1771H1160.8M1154.4 1871.8H1160.8M1160.8 1758.7V1889.1M1157.6 1758.7H1164M1157.6 1889.1H1164M1163.9 1753.6V1900.3M1160.7 1753.6H1167.1M1160.7 1900.3H1167.1M1166.8 1767.3V1902.3M1163.6 1767.3H1170M1163.6 1902.3H1170M1170.3 1801.5V1898M1167.1 1801.5H1173.5M1167.1 1898H1173.5M1173.5 1832.1V1893.2M1170.3 1832.1H1176.7M1170.3 1893.2H1176.7M1176.6 1864.4V1888.9M1173.4 1864.4H1179.8M1173.4 1888.9H1179.8M1179.7 1874.8V1889.8M1176.5 1874.8H1182.9M1176.5 1889.8H1182.9M1183 1878.1V1890.1M1179.8 1878.1H1186.2M1179.8 1890.1H1186.2M1186.1 1880.5V1890.3M1182.9 1880.5H1189.3M1182.9 1890.3H1189.3M1189.3 1881.3V1890.4M1186.1 1881.3H1192.5M1186.1 1890.4H1192.5M1192.4 1881.8V1890.6M1189.2 1881.8H1195.6M1189.2 1890.6H1195.6M1195.7 1882.3V1890.7M1192.5 1882.3H1198.9M1192.5 1890.7H1198.9M1198.8 1882.8V1890.9M1195.6 1882.8H1202M1195.6 1890.9H1202M1202 1883.3V1891.1M1198.8 1883.3H1205.2M1198.8 1891.1H1205.2M1205.1 1883.8V1891.2M1201.9 1883.8H1208.3M1201.9 1891.2H1208.3M1208.4 1884.3V1891.4M1205.2 1884.3H1211.6M1205.2 1891.4H1211.6" stroke="#000" stroke-width="1.25" fill="none"/>
<polyline points="1004.6,1884.3 1007.7,1885 1011,1885.5 1014.2,1884.3 1017.3,1882.9 1020.8,1880.4 1024.1,1875.4 1027.2,1868.5 1030.4,1862 1033.5,1855.4 1036.8,1849.1 1040.1,1842.7 1043.4,1833.6 1046.5,1826.5 1049.7,1824.4 1052.6,1817.8 1056.1,1819.5 1059.2,1823.3 1062.4,1829.3 1065.5,1836.8 1068.3,1846.5 1071.9,1850.2 1074.8,1856.4 1077.9,1858.9 1081,1860.6 1084.3,1861.5 1087.4,1862 1090.6,1860.6 1093.9,1859.7 1097,1858.9 1100.2,1857.3 1103.3,1857.5 1106.6,1857.3 1109.7,1855 1112.9,1853.3 1116,1851.9 1119.1,1849.4 1122.3,1847 1125.6,1844.6 1128.7,1838.5 1131.9,1833.6 1135.3,1820.2 1138.6,1803 1141.1,1790.3 1144.6,1782.8 1147.7,1788.9 1151,1802.5 1154.4,1812.4 1157.6,1821.6 1160.8,1823.7 1163.9,1826.9 1166.8,1837.4 1170.3,1851.9 1173.5,1863.9 1176.6,1875.2 1179.7,1880.1 1183,1882.9 1186.1,1885 1189.3,1885.7 1192.4,1886.7 1195.7,1887.1 1198.8,1887.9 1202,1887.9 1205.1,1887.9 1208.4,1887.1" fill="none" stroke="#111" stroke-width="1.0"/>
<g fill="#4d9cf4" stroke="#111" stroke-width="1.0"><circle cx="1004.6" cy="1884.3" r="4.4"/><circle cx="1007.7" cy="1885" r="4.4"/><circle cx="1011" cy="1885.5" r="4.4"/><circle cx="1014.2" cy="1884.3" r="4.4"/><circle cx="1017.3" cy="1882.9" r="4.4"/><circle cx="1020.8" cy="1880.4" r="4.4"/><circle cx="1024.1" cy="1875.4" r="4.4"/><circle cx="1027.2" cy="1868.5" r="4.4"/><circle cx="1030.4" cy="1862" r="4.4"/><circle cx="1033.5" cy="1855.4" r="4.4"/><circle cx="1036.8" cy="1849.1" r="4.4"/><circle cx="1040.1" cy="1842.7" r="4.4"/><circle cx="1043.4" cy="1833.6" r="4.4"/><circle cx="1046.5" cy="1826.5" r="4.4"/><circle cx="1049.7" cy="1824.4" r="4.4"/><circle cx="1052.6" cy="1817.8" r="4.4"/><circle cx="1056.1" cy="1819.5" r="4.4"/><circle cx="1059.2" cy="1823.3" r="4.4"/><circle cx="1062.4" cy="1829.3" r="4.4"/><circle cx="1065.5" cy="1836.8" r="4.4"/><circle cx="1068.3" cy="1846.5" r="4.4"/><circle cx="1071.9" cy="1850.2" r="4.4"/><circle cx="1074.8" cy="1856.4" r="4.4"/><circle cx="1077.9" cy="1858.9" r="4.4"/><circle cx="1081" cy="1860.6" r="4.4"/><circle cx="1084.3" cy="1861.5" r="4.4"/><circle cx="1087.4" cy="1862" r="4.4"/><circle cx="1090.6" cy="1860.6" r="4.4"/><circle cx="1093.9" cy="1859.7" r="4.4"/><circle cx="1097" cy="1858.9" r="4.4"/><circle cx="1100.2" cy="1857.3" r="4.4"/><circle cx="1103.3" cy="1857.5" r="4.4"/><circle cx="1106.6" cy="1857.3" r="4.4"/><circle cx="1109.7" cy="1855" r="4.4"/><circle cx="1112.9" cy="1853.3" r="4.4"/><circle cx="1116" cy="1851.9" r="4.4"/><circle cx="1119.1" cy="1849.4" r="4.4"/><circle cx="1122.3" cy="1847" r="4.4"/><circle cx="1125.6" cy="1844.6" r="4.4"/><circle cx="1128.7" cy="1838.5" r="4.4"/><circle cx="1131.9" cy="1833.6" r="4.4"/><circle cx="1135.3" cy="1820.2" r="4.4"/><circle cx="1138.6" cy="1803" r="4.4"/><circle cx="1141.1" cy="1790.3" r="4.4"/><circle cx="1144.6" cy="1782.8" r="4.4"/><circle cx="1147.7" cy="1788.9" r="4.4"/><circle cx="1151" cy="1802.5" r="4.4"/><circle cx="1154.4" cy="1812.4" r="4.4"/><circle cx="1157.6" cy="1821.6" r="4.4"/><circle cx="1160.8" cy="1823.7" r="4.4"/><circle cx="1163.9" cy="1826.9" r="4.4"/><circle cx="1166.8" cy="1837.4" r="4.4"/><circle cx="1170.3" cy="1851.9" r="4.4"/><circle cx="1173.5" cy="1863.9" r="4.4"/><circle cx="1176.6" cy="1875.2" r="4.4"/><circle cx="1179.7" cy="1880.1" r="4.4"/><circle cx="1183" cy="1882.9" r="4.4"/><circle cx="1186.1" cy="1885" r="4.4"/><circle cx="1189.3" cy="1885.7" r="4.4"/><circle cx="1192.4" cy="1886.7" r="4.4"/><circle cx="1195.7" cy="1887.1" r="4.4"/><circle cx="1198.8" cy="1887.9" r="4.4"/><circle cx="1202" cy="1887.9" r="4.4"/><circle cx="1205.1" cy="1887.9" r="4.4"/><circle cx="1208.4" cy="1887.1" r="4.4"/></g>
<path d="M982.8 1678.2V1889.3M976.3 1679.2H982.8M976.3 1783.5H982.8M976.3 1888.3H982.8M1004.3 1911.4H1211.5M1005.3 1911.4V1917.9M1108.2 1911.4V1917.9M1210.5 1911.4V1917.9" stroke="#000" stroke-width="2.0" fill="none"/>
<text x="973.8" y="1686.6" font-size="23" text-anchor="end">2</text>
<text x="973.8" y="1790.9" font-size="23" text-anchor="end">1</text>
<text x="973.8" y="1895.7" font-size="23" text-anchor="end">0</text>
<text x="1005.3" y="1943.2" font-size="23" text-anchor="middle">0.0</text>
<text x="1108.2" y="1943.2" font-size="23" text-anchor="middle">2.5</text>
<text x="1210.5" y="1943.2" font-size="23" text-anchor="middle">5.0</text>
<text x="918.5" y="1780.5" font-size="24.3" text-anchor="middle" transform="rotate(-90 918.5 1780.5)">Fluorescence intensity</text>
<text x="952" y="1779.5" font-size="24.6" text-anchor="middle" transform="rotate(-90 952 1779.5)">(Normalized)</text>
<text x="1107.3" y="1973.2" font-size="24" text-anchor="middle">Length (µm)</text>
<text x="977" y="1640.7" font-size="32">4 °C + 8 mM Mg<tspan dx="2.5" dy="-13.5" font-size="23.5">2+</tspan></text>
<path d="M1437.3 1885V1890.7M1434.1 1885H1440.5M1434.1 1890.7H1440.5M1440.4 1883.7V1891.4M1437.2 1883.7H1443.6M1437.2 1891.4H1443.6M1443.7 1882.2V1892.1M1440.5 1882.2H1446.9M1440.5 1892.1H1446.9M1446.8 1878.7V1892.8M1443.6 1878.7H1450M1443.6 1892.8H1450M1450 1879.8V1892.8M1446.8 1879.8H1453.2M1446.8 1892.8H1453.2M1453.1 1880.8V1892.8M1449.9 1880.8H1456.3M1449.9 1892.8H1456.3M1456.4 1876.6V1892.8M1453.2 1876.6H1459.6M1453.2 1892.8H1459.6M1459.5 1873V1892.8M1456.3 1873H1462.7M1456.3 1892.8H1462.7M1462.7 1860.6V1897M1459.5 1860.6H1465.9M1459.5 1897H1465.9M1466.1 1849.8V1903.4M1462.9 1849.8H1469.3M1462.9 1903.4H1469.3M1469.3 1831.4V1904.3M1466.1 1831.4H1472.5M1466.1 1904.3H1472.5M1472.9 1808.6V1901.2M1469.7 1808.6H1476.1M1469.7 1901.2H1476.1M1476 1778.3V1895.2M1472.8 1778.3H1479.2M1472.8 1895.2H1479.2M1479.2 1752.9V1886.4M1476 1752.9H1482.4M1476 1886.4H1482.4M1481.6 1749.6V1876.6M1478.4 1749.6H1484.8M1478.4 1876.6H1484.8M1484.8 1745.4V1868.2M1481.6 1745.4H1488M1481.6 1868.2H1488M1488.1 1746.4V1861.5M1484.9 1746.4H1491.3M1484.9 1861.5H1491.3M1491.5 1747.2V1860.4M1488.3 1747.2H1494.7M1488.3 1860.4H1494.7M1494.7 1743.9V1864.8M1491.5 1743.9H1497.9M1491.5 1864.8H1497.9M1497.8 1753.5V1863.5M1494.6 1753.5H1501M1494.6 1863.5H1501M1501.1 1765.9V1858.7M1497.9 1765.9H1504.3M1497.9 1858.7H1504.3M1504.2 1788.1V1854.6M1501 1788.1H1507.4M1501 1854.6H1507.4M1507.4 1809V1849.5M1504.2 1809H1510.6M1504.2 1849.5H1510.6M1510.5 1821.4V1850.3M1507.3 1821.4H1513.7M1507.3 1850.3H1513.7M1513.5 1829.3V1851.6M1510.3 1829.3H1516.7M1510.3 1851.6H1516.7M1516.6 1834.6V1854.1M1513.4 1834.6H1519.8M1513.4 1854.1H1519.8M1519.7 1837.5V1858M1516.5 1837.5H1522.9M1516.5 1858H1522.9M1522.9 1840.1V1862.8M1519.7 1840.1H1526.1M1519.7 1862.8H1526.1M1526.2 1841.2V1866.1M1523 1841.2H1529.4M1523 1866.1H1529.4M1529.3 1838.1V1870.3M1526.1 1838.1H1532.5M1526.1 1870.3H1532.5M1532.4 1829.8V1871.8M1529.2 1829.8H1535.6M1529.2 1871.8H1535.6M1535.6 1820.7V1871.1M1532.4 1820.7H1538.8M1532.4 1871.1H1538.8M1538.4 1820.2V1872.4M1535.2 1820.2H1541.6M1535.2 1872.4H1541.6M1541.7 1822.3V1874M1538.5 1822.3H1544.9M1538.5 1874H1544.9M1544.8 1825.2V1875.2M1541.6 1825.2H1548M1541.6 1875.2H1548M1547.9 1831.5V1875.6M1544.7 1831.5H1551.1M1544.7 1875.6H1551.1M1551.1 1834.8V1875.8M1547.9 1834.8H1554.3M1547.9 1875.8H1554.3M1554.2 1835.2V1877.9M1551 1835.2H1557.4M1551 1877.9H1557.4M1557.5 1834.9V1877.4M1554.3 1834.9H1560.7M1554.3 1877.4H1560.7M1560.6 1834.4V1875.7M1557.4 1834.4H1563.8M1557.4 1875.7H1563.8M1563.8 1829.4V1874.7M1560.6 1829.4H1567M1560.6 1874.7H1567M1567.1 1826.1V1872.5M1563.9 1826.1H1570.3M1563.9 1872.5H1570.3M1570.2 1823.5V1868.9M1567 1823.5H1573.4M1567 1868.9H1573.4M1573.4 1819.4V1860.7M1570.2 1819.4H1576.6M1570.2 1860.7H1576.6M1576.8 1811.3V1848.7M1573.6 1811.3H1580M1573.6 1848.7H1580M1580 1796.6V1835M1576.8 1796.6H1583.2M1576.8 1835H1583.2M1582.8 1785V1831.6M1579.6 1785H1586M1579.6 1831.6H1586M1585.9 1772.8V1831M1582.7 1772.8H1589.1M1582.7 1831H1589.1M1589.2 1773V1830.3M1586 1773H1592.4M1586 1830.3H1592.4M1592.4 1767V1829.6M1589.2 1767H1595.6M1589.2 1829.6H1595.6M1595.5 1759.6V1832.1M1592.3 1759.6H1598.7M1592.3 1832.1H1598.7M1598.6 1753.8V1836.4M1595.4 1753.8H1601.8M1595.4 1836.4H1601.8M1601.5 1745V1839M1598.3 1745H1604.7M1598.3 1839H1604.7M1604.7 1729.2V1844.9M1601.5 1729.2H1607.9M1601.5 1844.9H1607.9M1608.2 1705V1862.9M1605 1705H1611.4M1605 1862.9H1611.4M1611.5 1695.3V1885.1M1608.3 1695.3H1614.7M1608.3 1885.1H1614.7M1614.9 1703.5V1903.5M1611.7 1703.5H1618.1M1611.7 1903.5H1618.1M1618.1 1744.8V1907.9M1614.9 1744.8H1621.3M1614.9 1907.9H1621.3M1621.2 1784.2V1908.2M1618 1784.2H1624.4M1618 1908.2H1624.4M1624.2 1815.5V1906.2M1621 1815.5H1627.4M1621 1906.2H1627.4M1627.3 1838.7V1904.9M1624.1 1838.7H1630.5M1624.1 1904.9H1630.5M1630.4 1844.8V1905M1627.2 1844.8H1633.6M1627.2 1905H1633.6M1633.6 1845.6V1904.6M1630.4 1845.6H1636.8M1630.4 1904.6H1636.8M1637.1 1853.9V1901.9M1633.9 1853.9H1640.3M1633.9 1901.9H1640.3M1640.7 1858.4V1900.6M1637.5 1858.4H1643.9M1637.5 1900.6H1643.9" stroke="#000" stroke-width="1.25" fill="none"/>
<polyline points="1437.3,1888.3 1440.4,1887.9 1443.7,1887.1 1446.8,1886 1450,1886.4 1453.1,1885.7 1456.4,1884.3 1459.5,1881.9 1462.7,1878.7 1466.1,1876.6 1469.3,1868.1 1472.9,1854.7 1476,1836.7 1479.2,1819.9 1481.6,1811.4 1484.8,1806.1 1488.1,1803.2 1491.5,1803.7 1494.7,1804.2 1497.8,1808.9 1501.1,1812.4 1504.2,1822.3 1507.4,1829.6 1510.5,1835.7 1513.5,1840.6 1516.6,1845.5 1519.7,1848.4 1522.9,1851.9 1526.2,1853.3 1529.3,1854 1532.4,1849.8 1535.6,1844.8 1538.4,1846 1541.7,1847.9 1544.8,1850.2 1547.9,1853.3 1551.1,1855 1554.2,1857.5 1557.5,1855.4 1560.6,1854 1563.8,1851.2 1567.1,1849.8 1570.2,1844.8 1573.4,1837.8 1576.8,1828.2 1580,1813.8 1582.8,1806.5 1585.9,1799.7 1589.2,1802.8 1592.4,1796.9 1595.5,1796.2 1598.6,1794.8 1601.5,1790.6 1604.7,1786.3 1608.2,1783.5 1611.5,1793.1 1614.9,1806.5 1618.1,1831.4 1621.2,1850.9 1624.2,1865.3 1627.3,1873 1630.4,1874.2 1633.6,1875.2 1637.1,1878.4 1640.7,1879.8" fill="none" stroke="#111" stroke-width="1.0"/>
<g fill="#4d9cf4" stroke="#111" stroke-width="1.0"><circle cx="1437.3" cy="1888.3" r="4.4"/><circle cx="1440.4" cy="1887.9" r="4.4"/><circle cx="1443.7" cy="1887.1" r="4.4"/><circle cx="1446.8" cy="1886" r="4.4"/><circle cx="1450" cy="1886.4" r="4.4"/><circle cx="1453.1" cy="1885.7" r="4.4"/><circle cx="1456.4" cy="1884.3" r="4.4"/><circle cx="1459.5" cy="1881.9" r="4.4"/><circle cx="1462.7" cy="1878.7" r="4.4"/><circle cx="1466.1" cy="1876.6" r="4.4"/><circle cx="1469.3" cy="1868.1" r="4.4"/><circle cx="1472.9" cy="1854.7" r="4.4"/><circle cx="1476" cy="1836.7" r="4.4"/><circle cx="1479.2" cy="1819.9" r="4.4"/><circle cx="1481.6" cy="1811.4" r="4.4"/><circle cx="1484.8" cy="1806.1" r="4.4"/><circle cx="1488.1" cy="1803.2" r="4.4"/><circle cx="1491.5" cy="1803.7" r="4.4"/><circle cx="1494.7" cy="1804.2" r="4.4"/><circle cx="1497.8" cy="1808.9" r="4.4"/><circle cx="1501.1" cy="1812.4" r="4.4"/><circle cx="1504.2" cy="1822.3" r="4.4"/><circle cx="1507.4" cy="1829.6" r="4.4"/><circle cx="1510.5" cy="1835.7" r="4.4"/><circle cx="1513.5" cy="1840.6" r="4.4"/><circle cx="1516.6" cy="1845.5" r="4.4"/><circle cx="1519.7" cy="1848.4" r="4.4"/><circle cx="1522.9" cy="1851.9" r="4.4"/><circle cx="1526.2" cy="1853.3" r="4.4"/><circle cx="1529.3" cy="1854" r="4.4"/><circle cx="1532.4" cy="1849.8" r="4.4"/><circle cx="1535.6" cy="1844.8" r="4.4"/><circle cx="1538.4" cy="1846" r="4.4"/><circle cx="1541.7" cy="1847.9" r="4.4"/><circle cx="1544.8" cy="1850.2" r="4.4"/><circle cx="1547.9" cy="1853.3" r="4.4"/><circle cx="1551.1" cy="1855" r="4.4"/><circle cx="1554.2" cy="1857.5" r="4.4"/><circle cx="1557.5" cy="1855.4" r="4.4"/><circle cx="1560.6" cy="1854" r="4.4"/><circle cx="1563.8" cy="1851.2" r="4.4"/><circle cx="1567.1" cy="1849.8" r="4.4"/><circle cx="1570.2" cy="1844.8" r="4.4"/><circle cx="1573.4" cy="1837.8" r="4.4"/><circle cx="1576.8" cy="1828.2" r="4.4"/><circle cx="1580" cy="1813.8" r="4.4"/><circle cx="1582.8" cy="1806.5" r="4.4"/><circle cx="1585.9" cy="1799.7" r="4.4"/><circle cx="1589.2" cy="1802.8" r="4.4"/><circle cx="1592.4" cy="1796.9" r="4.4"/><circle cx="1595.5" cy="1796.2" r="4.4"/><circle cx="1598.6" cy="1794.8" r="4.4"/><circle cx="1601.5" cy="1790.6" r="4.4"/><circle cx="1604.7" cy="1786.3" r="4.4"/><circle cx="1608.2" cy="1783.5" r="4.4"/><circle cx="1611.5" cy="1793.1" r="4.4"/><circle cx="1614.9" cy="1806.5" r="4.4"/><circle cx="1618.1" cy="1831.4" r="4.4"/><circle cx="1621.2" cy="1850.9" r="4.4"/><circle cx="1624.2" cy="1865.3" r="4.4"/><circle cx="1627.3" cy="1873" r="4.4"/><circle cx="1630.4" cy="1874.2" r="4.4"/><circle cx="1633.6" cy="1875.2" r="4.4"/><circle cx="1637.1" cy="1878.4" r="4.4"/><circle cx="1640.7" cy="1879.8" r="4.4"/></g>
<path d="M1415 1678.2V1889.3M1408.5 1679.2H1415M1408.5 1783.5H1415M1408.5 1888.3H1415M1437 1911.4H1644.2M1438 1911.4V1917.9M1540.5 1911.4V1917.9M1643.2 1911.4V1917.9" stroke="#000" stroke-width="2.0" fill="none"/>
<text x="1406" y="1686.6" font-size="23" text-anchor="end">2</text>
<text x="1406" y="1790.9" font-size="23" text-anchor="end">1</text>
<text x="1406" y="1895.7" font-size="23" text-anchor="end">0</text>
<text x="1438" y="1943.2" font-size="23" text-anchor="middle">0.0</text>
<text x="1540.5" y="1943.2" font-size="23" text-anchor="middle">2.5</text>
<text x="1643.2" y="1943.2" font-size="23" text-anchor="middle">5.0</text>
<text x="1351" y="1779.5" font-size="24.3" text-anchor="middle" transform="rotate(-90 1351 1779.5)">Fluorescence Intensity</text>
<text x="1385" y="1778.5" font-size="24.6" text-anchor="middle" transform="rotate(-90 1385 1778.5)">(Normalized)</text>
<text x="1539.8" y="1973.2" font-size="24" text-anchor="middle">Length (µm)</text>
<text x="1404.5" y="1640.7" font-size="32">4 °C + 10 mM Mg<tspan dx="2.5" dy="-13.5" font-size="23.5">2+</tspan></text>
</svg></body></html>
